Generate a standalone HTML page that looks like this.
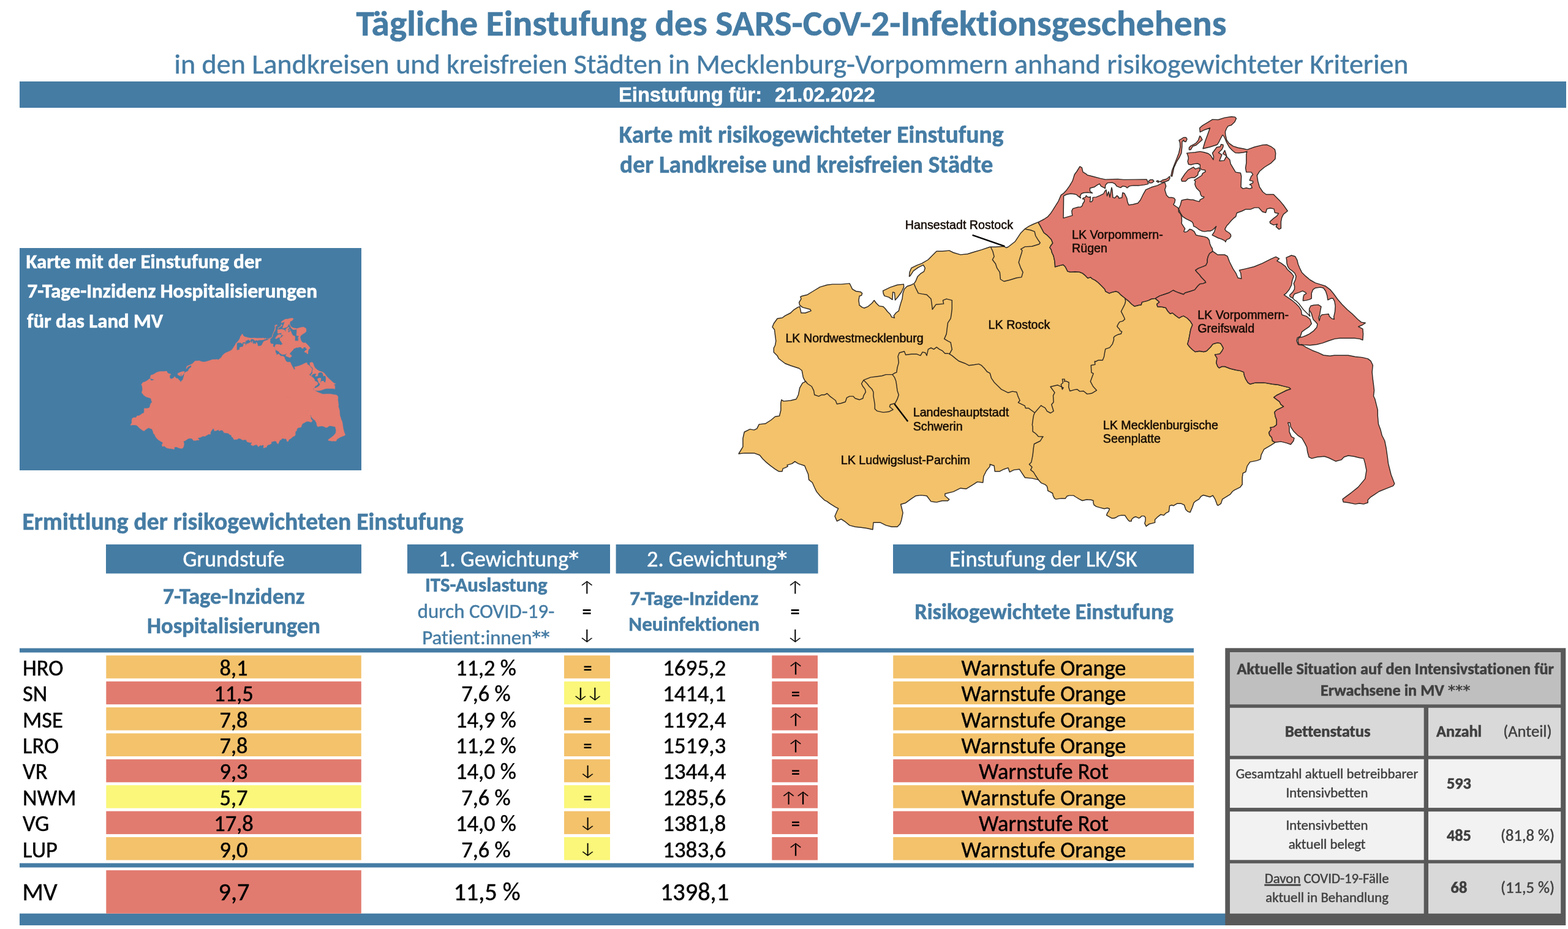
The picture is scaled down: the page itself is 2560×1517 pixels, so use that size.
<!DOCTYPE html>
<html lang="de"><head><meta charset="utf-8"><title>Tägliche Einstufung des SARS-CoV-2-Infektionsgeschehens</title>
<style>html,body{margin:0;padding:0;background:#fff;}body{width:2560px;height:1517px;overflow:hidden;}svg{display:block;}text{font-variant-ligatures:none;font-kerning:normal;}</style>
</head><body>
<svg xmlns="http://www.w3.org/2000/svg" width="2560" height="1517" viewBox="0 0 2560 1517">
<rect width="2560" height="1517" fill="#fff"/>
<text x="1292" y="58.3" font-family="Carlito, 'Liberation Sans', sans-serif" font-size="59.5" font-weight="bold" fill="#457ca4" text-anchor="middle" stroke="#457ca4" stroke-width="0.6">Tägliche Einstufung des SARS-CoV-2-Infektionsgeschehens</text>
<text x="1292" y="119.8" font-family="Carlito, 'Liberation Sans', sans-serif" font-size="46" font-weight="normal" fill="#457ca4" text-anchor="middle" stroke="#457ca4" stroke-width="0.45">in den Landkreisen und kreisfreien Städten in Mecklenburg-Vorpommern anhand risikogewichteter Kriterien</text>
<rect x="32" y="133" width="2525" height="43" fill="#457ca4"/>
<text x="1010" y="165.8" font-family="'Liberation Sans', Arial, sans-serif" font-size="32.7" font-weight="bold" fill="#fff" text-anchor="start" stroke="#fff" stroke-width="0.5">Einstufung für:</text>
<text x="1265" y="165.8" font-family="'Liberation Sans', Arial, sans-serif" font-size="32.7" font-weight="bold" fill="#fff" text-anchor="start" stroke="#fff" stroke-width="0.5">21.02.2022</text>
<text x="1010.6" y="232.6" font-family="Carlito, 'Liberation Sans', sans-serif" font-size="39.6" font-weight="bold" fill="#457ca4" text-anchor="start" stroke="#457ca4" stroke-width="0.6">Karte mit risikogewichteter Einstufung</text>
<text x="1012" y="282" font-family="Carlito, 'Liberation Sans', sans-serif" font-size="39.4" font-weight="bold" fill="#457ca4" text-anchor="start" stroke="#457ca4" stroke-width="0.6">der Landkreise und kreisfreien Städte</text>
<rect x="32" y="405" width="558" height="363" fill="#457ca4"/>
<text x="42.5" y="438" font-family="Carlito, 'Liberation Sans', sans-serif" font-size="32.8" font-weight="bold" fill="#fff" text-anchor="start" stroke="#fff" stroke-width="0.6">Karte mit der Einstufung der</text>
<text x="44.5" y="486.4" font-family="Carlito, 'Liberation Sans', sans-serif" font-size="33.05" font-weight="bold" fill="#fff" text-anchor="start" stroke="#fff" stroke-width="0.6">7-Tage-Inzidenz Hospitalisierungen</text>
<text x="44" y="534.7" font-family="Carlito, 'Liberation Sans', sans-serif" font-size="32.8" font-weight="bold" fill="#fff" text-anchor="start" stroke="#fff" stroke-width="0.6">für das Land MV</text>
<g transform="translate(212.80,519.50) scale(0.32770,0.31769) translate(-1206.04,-190.51)"><path d="M1314.9,623.3 L1311.4,616.4 L1309.2,605.0 L1304.6,601.5 L1290.8,597.0 L1281.7,593.5 L1271.3,585.5 L1269.1,580.9 L1263.3,575.2 L1263.3,568.3 L1265.6,563.7 L1266.8,556.9 L1265.6,547.7 L1264.5,538.5 L1261.0,533.9 L1263.3,528.2 L1269.1,520.2 L1277.1,519.0 L1281.7,515.6 L1290.8,511.0 L1295.4,506.4 L1302.3,501.9 L1305.7,500.7 L1308.0,511.0 L1314.9,511.0 L1324.1,507.6 L1322.9,505.3 L1310.3,501.9 L1305.7,498.4 L1304.6,493.8 L1308.0,488.1 L1306.9,484.7 L1309.2,483.5 L1318.3,481.2 L1327.5,475.5 L1338.9,468.6 L1350.4,465.2 L1359.6,464.1 L1373.3,464.1 L1387.1,462.9 L1389.4,467.5 L1391.6,472.1 L1397.4,475.5 L1405.4,476.7 L1407.7,478.9 L1406.5,482.4 L1403.1,483.5 L1402.0,490.4 L1403.1,498.4 L1407.7,501.9 L1411.1,503.0 L1416.9,500.7 L1423.7,495.0 L1427.2,490.4 L1430.6,495.0 L1435.2,499.6 L1442.1,500.7 L1445.5,504.2 L1448.9,508.7 L1453.5,513.3 L1455.8,517.9 L1460.4,519.0 L1459.2,515.6 L1462.7,511.0 L1467.3,507.6 L1468.4,503.0 L1470.7,495.0 L1473.0,488.1 L1474.1,478.9 L1476.4,472.1 L1481.0,467.5 L1487.9,465.2 L1492.5,462.9 L1494.8,459.5 L1498.2,451.4 L1502.8,446.9 L1508.5,443.4 L1510.3,437.7 L1507.4,432.7 L1499.3,436.6 L1491.3,442.3 L1486.1,450.3 L1484.5,451.4 L1485.1,444.6 L1487.9,437.7 L1497.1,433.1 L1505.1,430.1 L1515.4,424.0 L1529.1,410.2 L1538.3,410.2 L1549.8,409.1 L1556.6,412.5 L1568.1,415.9 L1579.6,414.8 L1591.0,411.3 L1602.5,407.9 L1616.2,403.3 L1625.4,403.3 L1639.1,402.2 L1642.6,404.5 L1646.0,403.3 L1657.5,394.2 L1666.6,380.4 L1673.5,373.5 L1680.0,369.3 L1687.1,366.0 L1696.0,362.3 L1695.6,364.2 L1697.9,367.9 L1704.3,380.0 L1709.1,383.6 L1716.4,390.9 L1718.8,397.0 L1715.2,401.8 L1714.0,404.3 L1716.4,407.9 L1717.6,412.8 L1720.0,417.6 L1721.9,426.1 L1722.5,433.4 L1722.5,435.8 L1731.0,433.4 L1735.8,432.2 L1739.4,435.8 L1741.9,440.7 L1743.1,443.1 L1747.9,444.3 L1755.2,443.7 L1762.5,444.3 L1767.3,446.1 L1771.0,449.1 L1775.8,454.0 L1780.7,452.8 L1783.1,455.2 L1788.0,457.6 L1792.8,461.3 L1798.9,467.3 L1803.7,472.2 L1805.0,475.8 L1811.0,478.9 L1815.9,477.1 L1821.9,475.8 L1825.6,477.1 L1830.4,481.9 L1836.5,486.8 L1842.6,491.6 L1847.4,496.5 L1852.3,500.1 L1854.7,499.5 L1859.5,498.3 L1863.2,497.7 L1864.4,493.4 L1871.7,491.6 L1875.3,490.4 L1880.2,488.0 L1886.2,487.4 L1891.1,491.6 L1892.9,493.4 L1888.7,496.5 L1889.9,500.7 L1897.2,501.3 L1903.2,502.5 L1906.9,508.6 L1910.5,512.2 L1914.1,511.0 L1920.2,515.9 L1925.1,519.5 L1928.7,517.1 L1932.3,515.9 L1938.4,519.5 L1943.3,524.4 L1946.9,530.4 L1944.5,536.5 L1943.3,541.3 L1942.0,548.6 L1940.8,554.7 L1938.8,561.9 L1942.3,566.5 L1946.9,571.0 L1951.4,574.5 L1958.3,573.3 L1965.2,574.5 L1969.8,573.3 L1976.6,566.5 L1980.1,561.9 L1983.5,560.7 L1988.1,559.6 L1992.7,560.7 L1995.0,564.2 L1997.3,568.7 L1995.0,573.3 L1991.5,577.9 L1983.5,579.1 L1987.0,584.8 L1985.8,592.8 L1988.1,598.5 L1990.4,600.8 L1995.0,598.5 L1999.6,598.5 L2008.7,602.0 L2017.9,604.3 L2024.8,605.4 L2030.5,607.7 L2031.6,613.4 L2033.9,619.2 L2037.4,624.9 L2040.8,627.2 L2050.0,624.9 L2063.7,624.9 L2077.5,627.2 L2086.6,628.3 L2095.8,630.6 L2105.0,632.9 L2107.3,635.2 L2100.4,637.5 L2091.2,642.1 L2084.3,645.5 L2079.8,648.9 L2084.3,652.4 L2088.9,655.8 L2091.2,660.4 L2095.8,663.8 L2088.9,667.3 L2084.3,669.6 L2080.9,673.0 L2082.1,679.9 L2084.3,685.6 L2084.3,693.6 L2079.8,697.1 L2074.0,698.2 L2075.2,701.6 L2071.7,706.2 L2072.9,710.8 L2076.3,714.3 L2077.5,720.0 L2082.1,722.3 L2075.2,726.9 L2063.7,733.7 L2061.4,738.3 L2059.1,742.9 L2058.0,749.8 L2052.3,752.1 L2040.8,754.4 L2036.2,761.2 L2033.9,770.4 L2029.3,772.7 L2028.2,779.6 L2028.2,791.0 L2024.8,795.6 L2015.6,800.2 L2012.2,802.5 L2008.7,807.1 L1995.8,815.1 L1993.4,822.3 L1988.6,825.3 L1987.4,824.7 L1983.8,815.1 L1980.2,809.1 L1975.4,811.5 L1964.7,808.5 L1961.1,810.3 L1957.5,815.1 L1951.5,818.7 L1949.1,821.1 L1946.7,828.3 L1943.1,836.6 L1939.5,835.4 L1935.9,831.9 L1933.5,824.7 L1928.7,822.3 L1921.6,822.3 L1915.6,825.9 L1913.2,824.7 L1909.6,825.9 L1908.4,835.4 L1903.6,837.8 L1900.0,841.4 L1895.2,840.2 L1890.4,843.8 L1885.6,848.6 L1885.6,853.4 L1880.8,854.6 L1876.0,855.8 L1871.3,859.4 L1868.9,854.6 L1870.1,849.8 L1870.1,845.0 L1867.7,842.6 L1864.1,842.6 L1861.7,845.0 L1859.3,846.2 L1854.5,843.8 L1850.9,845.0 L1847.3,848.6 L1847.3,851.0 L1843.7,851.0 L1841.3,848.6 L1836.5,841.4 L1830.5,841.4 L1825.7,842.6 L1822.2,845.0 L1818.6,846.2 L1815.0,846.2 L1806.6,841.4 L1807.8,837.8 L1810.2,834.3 L1811.4,830.7 L1807.8,829.5 L1803.0,830.7 L1795.8,828.9 L1789.8,827.1 L1786.2,824.7 L1785.0,821.1 L1785.0,817.5 L1781.4,816.3 L1774.3,815.7 L1767.1,817.5 L1762.3,815.1 L1756.3,811.5 L1752.7,809.1 L1745.5,809.1 L1741.9,810.3 L1739.5,813.9 L1732.3,813.9 L1724.0,815.1 L1721.6,813.9 L1719.2,809.1 L1718.6,805.5 L1714.4,803.1 L1710.8,801.3 L1710.2,797.1 L1709.0,793.5 L1706.0,791.1 L1700.0,788.7 L1695.3,783.4 L1685.0,781.1 L1673.5,780.0 L1668.9,773.1 L1664.3,766.2 L1655.2,767.4 L1648.3,770.8 L1646.0,763.9 L1639.1,766.2 L1632.3,769.7 L1624.2,769.7 L1623.1,760.5 L1616.2,758.2 L1616.2,761.6 L1610.5,768.5 L1605.9,777.7 L1604.8,788.0 L1595.6,786.9 L1588.7,791.4 L1577.3,798.3 L1568.1,797.2 L1556.6,802.9 L1542.9,806.3 L1542.9,809.8 L1549.8,815.5 L1547.5,817.8 L1538.3,817.8 L1529.1,820.1 L1520.0,818.9 L1513.1,809.8 L1503.9,808.6 L1494.8,809.8 L1487.9,814.4 L1478.7,821.2 L1470.7,823.5 L1474.1,837.3 L1471.9,848.7 L1469.6,855.6 L1465.0,860.2 L1455.8,860.2 L1446.6,857.9 L1437.5,853.3 L1426.0,853.3 L1424.9,864.8 L1414.6,862.5 L1405.4,861.3 L1396.2,860.2 L1387.1,857.9 L1380.2,852.2 L1373.3,847.6 L1366.4,851.0 L1363.0,843.0 L1366.4,835.0 L1368.7,830.4 L1364.2,828.1 L1355.0,822.4 L1350.4,818.9 L1345.8,816.6 L1338.9,809.8 L1333.2,802.9 L1329.8,796.0 L1326.3,788.0 L1320.6,783.4 L1319.5,774.3 L1316.0,766.2 L1313.7,760.5 L1303.4,757.1 L1297.7,753.6 L1293.1,757.1 L1285.1,759.4 L1286.2,761.6 L1281.7,763.9 L1278.2,765.1 L1277.1,769.7 L1271.3,769.7 L1265.6,766.2 L1256.5,759.4 L1249.6,753.6 L1245.0,749.0 L1240.4,743.3 L1231.2,739.9 L1215.2,739.9 L1206.0,741.0 L1212.9,729.6 L1212.9,715.8 L1215.2,705.5 L1224.4,700.9 L1231.2,702.1 L1235.8,699.8 L1239.3,692.9 L1249.6,691.8 L1258.7,686.0 L1265.6,680.3 L1272.5,679.2 L1274.8,670.0 L1274.8,658.5 L1275.9,652.8 L1279.4,655.1 L1290.8,654.0 L1300.0,651.7 L1303.4,644.8 L1305.7,633.3 L1310.3,625.3 Z M1441.6,474.8 L1453.5,469.1 L1465.0,465.2 L1475.3,464.1 L1475.7,468.6 L1471.9,476.7 L1466.1,484.7 L1461.5,489.9 L1460.4,477.8 L1457.6,477.1 L1457.0,489.3 L1451.2,485.4 L1443.9,483.1 L1442.1,478.9 Z M1696.0,362.3 L1704.5,358.0 L1710.7,353.8 L1714.9,349.1 L1718.7,343.4 L1723.4,335.8 L1728.1,328.3 L1732.4,318.4 L1736.6,315.6 L1741.3,310.4 L1746.0,303.8 L1748.4,300.0 L1751.2,295.1 L1754.3,285.0 L1758.0,280.0 L1763.0,271.9 L1766.4,273.9 L1768.0,280.9 L1773.0,283.9 L1775.5,286.0 L1785.6,288.5 L1795.7,291.1 L1804.8,293.1 L1815.9,292.6 L1825.0,292.4 L1835.0,293.4 L1872.0,292.9 L1873.0,294.9 L1875.0,299.9 L1873.0,300.9 L1868.0,301.9 L1860.0,302.9 L1850.0,302.9 L1844.0,303.9 L1840.0,306.8 L1838.0,304.8 L1833.0,303.9 L1830.0,306.2 L1828.5,306.2 L1823.5,304.2 L1820.4,300.2 L1815.9,298.1 L1808.3,298.6 L1804.8,302.2 L1804.3,307.7 L1802.8,306.7 L1797.7,304.2 L1795.2,300.2 L1790.6,302.7 L1787.1,305.2 L1779.5,307.2 L1779.5,312.3 L1783.6,315.3 L1775.5,314.3 L1769.4,314.8 L1765.4,316.3 L1763.4,320.4 L1764.4,323.4 L1760.3,320.4 L1757.8,317.9 L1753.1,316.7 L1747.7,316.3 L1741.3,317.5 L1736.6,319.8 L1736.1,356.1 L1750.8,351.9 L1750.2,348.2 L1749.8,344.3 L1751.7,340.6 L1760.0,338.2 L1764.4,338.1 L1766.9,336.0 L1767.9,332.5 L1770.4,329.0 L1770.4,325.4 L1767.4,324.9 L1768.4,323.4 L1771.9,322.4 L1773.5,319.4 L1775.5,321.4 L1778.5,322.4 L1780.0,320.9 L1780.5,323.4 L1779.5,329.5 L1782.0,329.5 L1784.1,327.0 L1784.1,322.4 L1789.6,321.9 L1795.7,319.4 L1801.8,316.3 L1803.8,312.3 L1806.0,310.0 L1807.5,320.0 L1810.0,313.0 L1812.0,322.0 L1814.9,306.2 L1815.9,310.3 L1816.9,322.4 L1819.9,323.4 L1823.5,319.4 L1826.0,321.4 L1826.8,323.8 L1831.8,322.8 L1832.8,314.8 L1835.8,315.8 L1839.8,323.8 L1840.8,329.8 L1842.8,334.8 L1849.8,333.8 L1857.8,331.8 L1861.8,326.8 L1866.7,316.8 L1870.7,309.8 L1879.7,305.8 L1889.7,302.9 L1895.7,299.9 L1901.7,297.9 L1903.7,303.9 L1901.7,309.8 L1904.5,318.7 L1908.3,322.5 L1913.0,322.5 L1916.8,323.4 L1918.7,326.2 L1917.7,330.9 L1915.8,333.8 L1917.7,335.7 L1920.6,337.5 L1923.4,339.4 L1924.3,342.3 L1924.3,346.0 L1927.2,348.9 L1929.1,353.6 L1929.5,360.2 L1929.1,364.9 L1930.9,367.7 L1932.8,370.6 L1934.7,373.4 L1932.8,378.1 L1934.7,379.1 L1938.5,378.1 L1942.3,374.3 L1946.0,375.3 L1949.8,378.1 L1951.7,381.9 L1952.6,383.8 L1956.4,384.7 L1962.1,385.7 L1966.8,386.6 L1971.5,388.5 L1974.3,392.3 L1975.3,397.9 L1977.2,402.6 L1979.1,405.5 L1980.0,410.3 L1974.8,414.0 L1972.4,418.8 L1971.2,423.7 L1971.2,428.5 L1968.7,433.4 L1962.7,435.8 L1956.6,438.2 L1951.7,441.3 L1954.2,444.3 L1957.8,447.9 L1961.5,452.8 L1967.5,458.9 L1968.7,461.3 L1963.9,463.1 L1959.0,463.7 L1955.4,467.3 L1950.5,473.4 L1943.3,475.8 L1934.8,478.3 L1932.3,480.7 L1925.1,478.3 L1919.0,475.8 L1915.4,474.0 L1908.1,478.3 L1900.8,480.7 L1893.5,483.1 L1886.2,487.4 L1880.2,488.0 L1875.3,490.4 L1871.7,491.6 L1864.4,493.4 L1863.2,497.7 L1859.5,498.3 L1854.7,499.5 L1852.3,500.1 L1847.4,496.5 L1842.6,491.6 L1836.5,486.8 L1830.4,481.9 L1825.6,477.1 L1821.9,475.8 L1815.9,477.1 L1811.0,478.9 L1805.0,475.8 L1803.7,472.2 L1798.9,467.3 L1792.8,461.3 L1788.0,457.6 L1783.1,455.2 L1780.7,452.8 L1775.8,454.0 L1771.0,449.1 L1767.3,446.1 L1762.5,444.3 L1755.2,443.7 L1747.9,444.3 L1743.1,443.1 L1741.9,440.7 L1739.4,435.8 L1735.8,432.2 L1731.0,433.4 L1722.5,435.8 L1722.5,433.4 L1721.9,426.1 L1720.0,417.6 L1717.6,412.8 L1716.4,407.9 L1714.0,404.3 L1715.2,401.8 L1718.8,397.0 L1716.4,390.9 L1709.1,383.6 L1704.3,380.0 L1697.9,367.9 L1695.6,364.2 Z M1980.0,410.3 L1983.3,412.6 L1987.9,416.0 L1999.3,416.0 L2003.9,418.3 L2007.4,427.5 L2013.1,438.9 L2017.7,445.8 L2021.1,453.8 L2026.8,455.0 L2025.7,445.8 L2023.4,441.2 L2033.7,438.9 L2047.5,435.5 L2061.2,429.8 L2075.0,422.9 L2083.0,419.4 L2088.5,422.4 L2084.9,426.1 L2091.5,429.7 L2098.8,435.2 L2101.8,440.0 L2108.5,446.1 L2112.2,450.9 L2109.7,458.2 L2108.5,465.5 L2104.9,472.8 L2100.0,478.8 L2096.4,481.3 L2101.2,484.9 L2108.5,489.8 L2115.8,495.8 L2120.6,500.7 L2124.3,506.7 L2125.5,514.0 L2132.8,516.4 L2138.8,521.3 L2141.3,528.6 L2137.6,533.4 L2130.3,538.3 L2125.5,541.9 L2123.1,549.2 L2118.2,551.6 L2117.0,556.5 L2119.4,562.5 L2126.7,563.7 L2132.8,567.4 L2142.5,572.2 L2152.2,575.9 L2160.7,580.0 L2171.4,581.3 L2178.3,580.2 L2189.8,580.2 L2201.2,580.2 L2212.7,582.5 L2224.1,583.6 L2233.3,585.9 L2237.9,589.4 L2241.3,596.2 L2240.2,607.7 L2241.3,619.2 L2242.5,628.3 L2243.6,637.5 L2242.5,646.7 L2244.7,651.2 L2247.0,660.4 L2249.3,669.6 L2249.3,678.7 L2250.5,692.5 L2253.9,701.6 L2256.2,710.8 L2260.8,720.0 L2263.1,731.4 L2265.4,747.5 L2266.5,756.6 L2268.8,765.8 L2271.1,775.0 L2274.5,784.1 L2276.8,789.9 L2274.5,793.3 L2263.1,797.9 L2251.6,802.5 L2244.7,807.1 L2237.9,811.6 L2233.3,816.2 L2233.3,820.8 L2226.4,823.1 L2219.5,822.0 L2212.7,823.1 L2201.2,820.8 L2193.2,819.7 L2192.0,815.1 L2196.6,811.6 L2205.8,804.8 L2217.3,795.6 L2228.7,781.9 L2231.0,768.1 L2228.7,756.6 L2226.4,748.6 L2219.5,747.5 L2210.4,745.2 L2201.2,744.0 L2194.3,746.3 L2189.8,750.9 L2180.6,753.2 L2176.0,750.9 L2169.1,747.5 L2162.3,745.2 L2150.8,746.3 L2141.6,748.6 L2137.0,746.3 L2134.8,738.3 L2133.6,730.3 L2130.2,723.4 L2125.6,715.4 L2118.7,710.8 L2111.8,703.9 L2107.3,697.1 L2106.1,690.2 L2102.7,690.2 L2105.0,697.1 L2105.0,705.1 L2108.4,713.1 L2113.0,715.4 L2111.8,720.0 L2107.3,725.7 L2100.4,723.4 L2091.2,721.1 L2082.1,722.3 L2077.5,720.0 L2076.3,714.3 L2072.9,710.8 L2071.7,706.2 L2075.2,701.6 L2074.0,698.2 L2079.8,697.1 L2084.3,693.6 L2084.3,685.6 L2082.1,679.9 L2080.9,673.0 L2084.3,669.6 L2088.9,667.3 L2095.8,663.8 L2091.2,660.4 L2088.9,655.8 L2084.3,652.4 L2079.8,648.9 L2084.3,645.5 L2091.2,642.1 L2100.4,637.5 L2107.3,635.2 L2105.0,632.9 L2095.8,630.6 L2086.6,628.3 L2077.5,627.2 L2063.7,624.9 L2050.0,624.9 L2040.8,627.2 L2037.4,624.9 L2033.9,619.2 L2031.6,613.4 L2030.5,607.7 L2024.8,605.4 L2017.9,604.3 L2008.7,602.0 L1999.6,598.5 L1995.0,598.5 L1990.4,600.8 L1988.1,598.5 L1985.8,592.8 L1987.0,584.8 L1983.5,579.1 L1991.5,577.9 L1995.0,573.3 L1997.3,568.7 L1995.0,564.2 L1992.7,560.7 L1988.1,559.6 L1983.5,560.7 L1980.1,561.9 L1976.6,566.5 L1969.8,573.3 L1965.2,574.5 L1958.3,573.3 L1951.4,574.5 L1946.9,571.0 L1942.3,566.5 L1938.8,561.9 L1940.8,554.7 L1942.0,548.6 L1943.3,541.3 L1944.5,536.5 L1946.9,530.4 L1943.3,524.4 L1938.4,519.5 L1932.3,515.9 L1928.7,517.1 L1925.1,519.5 L1920.2,515.9 L1914.1,511.0 L1910.5,512.2 L1906.9,508.6 L1903.2,502.5 L1897.2,501.3 L1889.9,500.7 L1888.7,496.5 L1892.9,493.4 L1891.1,491.6 L1886.2,487.4 L1893.5,483.1 L1900.8,480.7 L1908.1,478.3 L1915.4,474.0 L1919.0,475.8 L1925.1,478.3 L1932.3,480.7 L1934.8,478.3 L1943.3,475.8 L1950.5,473.4 L1955.4,467.3 L1959.0,463.7 L1963.9,463.1 L1968.7,461.3 L1967.5,458.9 L1961.5,452.8 L1957.8,447.9 L1954.2,444.3 L1951.7,441.3 L1956.6,438.2 L1962.7,435.8 L1968.7,433.4 L1971.2,428.5 L1971.2,423.7 L1972.4,418.8 L1974.8,414.0 Z M1958.6,209.0 L1963.4,204.9 L1971.4,200.2 L1979.5,195.1 L1989.0,195.5 L1999.8,192.1 L2010.5,190.5 L2016.2,191.1 L2018.4,193.5 L2015.9,198.9 L2010.5,204.3 L2005.1,205.9 L2002.5,209.7 L2000.4,215.0 L2000.8,220.4 L2002.7,228.5 L2006.5,233.9 L2013.2,238.6 L2021.3,241.3 L2029.4,242.7 L2036.2,244.4 L2048.3,240.0 L2061.8,236.6 L2068.5,236.3 L2075.2,239.3 L2081.3,244.0 L2082.7,250.1 L2082.0,259.5 L2075.2,266.3 L2064.5,273.0 L2056.4,279.8 L2052.3,286.5 L2053.7,295.9 L2056.4,305.4 L2061.8,313.5 L2067.2,317.5 L2079.3,317.5 L2084.7,322.9 L2088.7,326.9 L2095.5,335.0 L2102.2,344.5 L2095.5,349.9 L2092.8,355.2 L2091.4,362.0 L2091.4,372.8 L2088.1,374.4 L2083.3,370.1 L2085.4,366.0 L2079.3,367.4 L2073.9,364.7 L2073.2,362.0 L2079.3,356.6 L2084.7,352.6 L2087.4,348.5 L2081.3,347.2 L2080.0,341.1 L2073.9,339.7 L2068.5,341.1 L2066.5,347.2 L2061.1,345.8 L2055.0,339.1 L2048.3,339.1 L2041.5,341.8 L2033.5,341.8 L2028.1,344.5 L2019.3,347.8 L2017.7,353.6 L2014.0,356.4 L2010.2,360.2 L2006.4,364.9 L2003.6,367.7 L2001.7,370.6 L1999.8,374.3 L2001.7,377.2 L2006.4,380.0 L2009.2,382.8 L2009.7,385.7 L2007.4,389.4 L2002.6,391.3 L2000.8,395.1 L1999.8,393.2 L1994.2,390.4 L1988.5,388.5 L1982.8,385.7 L1979.1,383.8 L1982.8,378.1 L1983.8,374.3 L1985.7,369.6 L1982.8,372.5 L1980.0,375.3 L1976.2,377.2 L1971.5,377.2 L1966.8,378.1 L1962.1,377.2 L1958.3,375.3 L1954.5,372.5 L1951.7,370.6 L1948.9,369.6 L1947.9,364.9 L1946.0,362.1 L1942.3,360.2 L1936.6,357.4 L1930.9,353.6 L1927.2,347.9 L1924.3,341.3 L1927.2,334.7 L1929.1,327.2 L1932.8,326.2 L1938.5,325.3 L1944.2,326.2 L1947.9,326.2 L1953.6,328.1 L1958.3,329.1 L1959.2,326.2 L1964.9,323.4 L1965.8,321.5 L1962.1,320.6 L1960.2,317.7 L1959.2,313.0 L1955.5,309.2 L1953.6,307.4 L1951.7,303.6 L1950.8,300.8 L1951.7,296.0 L1949.8,294.2 L1954.5,291.3 L1962.0,286.5 L1963.4,283.1 L1968.1,280.4 L1967.4,277.7 L1962.0,277.1 L1959.3,274.4 L1959.3,269.0 L1955.3,267.0 L1949.9,267.6 L1944.5,269.0 L1940.4,268.3 L1939.1,263.6 L1940.4,258.2 L1939.1,252.8 L1937.7,250.1 L1943.1,249.4 L1951.2,248.8 L1959.3,247.4 L1966.1,248.8 L1972.8,250.8 L1976.8,254.1 L1980.9,260.9 L1981.5,256.0 L1979.5,250.0 L1986.5,240.5 L1992.2,239.5 L1993.6,235.8 L1997.0,236.5 L1997.0,239.8 L1995.0,243.9 L1989.5,249.3 L1994.9,252.6 L1990.9,262.7 L1998.6,262.1 L2002.3,255.3 L2007.8,260.9 L2009.2,267.6 L2013.2,274.4 L2017.3,281.1 L2025.4,282.5 L2026.7,287.8 L2026.0,305.4 L2029.4,308.1 L2034.8,306.7 L2040.2,308.1 L2044.2,306.7 L2042.9,302.7 L2040.2,301.3 L2045.6,298.6 L2045.6,295.9 L2040.2,294.6 L2042.9,287.8 L2045.6,285.1 L2042.9,281.1 L2034.8,281.1 L2033.5,274.4 L2034.8,266.3 L2034.8,259.5 L2034.8,251.4 L2036.0,247.5 L2029.9,249.0 L2022.9,249.8 L2016.8,249.5 L2012.4,246.0 L2007.1,240.5 L2002.7,232.6 L2000.1,226.5 L1997.5,221.5 L1996.0,220.5 L1993.0,225.8 L1990.1,231.9 L1987.2,236.3 L1975.5,240.0 L1964.0,242.7 L1967.4,231.2 L1971.4,220.4 L1975.5,209.0 L1967.4,211.7 L1959.3,215.7 Z M2100.0,420.6 L2108.5,417.0 L2114.6,418.8 L2117.6,424.3 L2119.4,431.5 L2121.9,437.6 L2125.5,444.9 L2131.6,450.9 L2138.8,457.0 L2147.3,461.9 L2157.0,464.9 L2164.3,467.3 L2171.6,472.8 L2177.6,480.0 L2183.7,488.5 L2191.0,497.0 L2199.5,505.5 L2208.0,512.8 L2216.5,521.3 L2222.5,526.1 L2229.2,527.3 L2223.7,531.0 L2217.7,533.4 L2224.9,537.1 L2225.6,545.5 L2224.9,555.2 L2220.1,553.4 L2211.6,552.2 L2199.5,552.2 L2187.3,552.2 L2178.9,553.4 L2169.2,556.5 L2159.5,560.1 L2149.8,562.5 L2138.8,563.7 L2129.1,563.1 L2124.3,562.5 L2121.2,563.1 L2119.4,558.9 L2119.2,554.0 L2121.2,551.0 L2126.7,550.2 L2132.2,548.0 L2137.6,545.3 L2144.3,540.7 L2149.8,534.6 L2151.0,529.2 L2147.9,525.5 L2144.3,521.9 L2142.5,517.0 L2141.3,512.2 L2138.8,507.9 L2135.2,504.9 L2131.6,501.9 L2127.9,497.6 L2124.3,493.4 L2119.4,490.4 L2114.6,488.3 L2109.7,486.4 L2106.1,484.3 L2105.5,481.9 L2107.9,479.4 L2110.9,476.4 L2113.4,472.2 L2113.6,467.3 L2112.2,463.1 L2115.2,456.0 L2116.0,450.9 L2113.6,445.8 L2109.1,441.8 L2105.1,439.1 L2102.7,435.4 L2101.0,430.3 L2100.6,424.3 Z M1911.7,287.5 L1913.7,278.0 L1917.6,268.0 L1921.6,258.0 L1924.6,250.0 L1926.8,240.0 L1926.5,233.0 L1925.0,229.2 L1932.4,224.5 L1936.4,224.5 L1938.0,227.2 L1936.1,231.5 L1933.4,231.0 L1932.4,228.8 L1930.0,231.5 L1929.8,240.0 L1928.8,250.0 L1925.5,257.0 L1921.6,263.0 L1916.6,274.0 L1913.7,287.9 Z M1941.4,241.3 L1944.0,238.3 L1950.2,235.2 L1952.8,233.5 L1956.3,229.1 L1958.9,222.1 L1960.7,223.8 L1962.9,228.2 L1958.9,231.7 L1952.8,237.0 L1947.5,238.7 L1944.0,244.4 L1941.4,244.4 Z M1928.6,292.9 L1934.6,283.9 L1939.6,277.9 L1946.6,273.9 L1948.6,272.9 L1951.6,275.9 L1957.5,273.9 L1959.5,277.9 L1956.5,280.9 L1955.5,285.9 L1950.6,289.9 L1945.6,289.9 L1939.6,291.9 L1935.6,295.9 L1929.6,295.9 Z M1996.6,251.0 L1999.6,245.6 L2002.7,254.6 Z M1875.0,296.0 L1878.0,293.5 L1882.0,293.5 L1884.0,296.0 L1881.0,298.5 L1877.0,298.8 Z M1888.0,296.0 L1890.0,295.0 L1893.0,296.5 L1891.0,298.0 Z M1894.0,296.5 L1898.0,294.0 L1904.0,292.5 L1907.5,290.0 L1909.5,288.0 L1910.0,291.0 L1908.0,294.5 L1903.0,296.5 L1897.0,297.9 Z" fill="#e47c6f" fill-rule="nonzero" stroke="#e47c6f" stroke-width="1.2" stroke-linejoin="round"/><path d="M2113.4,480.0 L2120.6,477.6 L2126.7,475.2 L2131.6,477.6 L2132.8,479.4 L2129.1,481.3 L2127.9,484.9 L2127.3,491.0 L2132.8,490.4 L2137.6,489.1 L2141.3,487.3 L2141.3,478.8 L2143.7,472.8 L2147.3,470.3 L2155.8,469.1 L2160.7,470.3 L2164.3,475.2 L2166.7,482.5 L2167.9,489.8 L2172.8,487.3 L2176.4,487.3 L2178.9,492.2 L2180.1,499.5 L2179.5,509.2 L2177.6,517.6 L2178.3,521.3 L2174.0,520.1 L2170.4,516.4 L2169.2,512.8 L2163.1,513.4 L2158.2,514.0 L2155.8,516.4 L2154.6,521.3 L2154.0,523.7 L2152.8,518.9 L2154.6,514.0 L2155.8,506.7 L2157.0,500.7 L2152.2,497.6 L2144.9,498.2 L2140.0,499.5 L2137.6,504.3 L2137.6,511.6 L2138.8,516.4 L2135.2,512.8 L2131.6,509.2 L2127.9,505.5 L2124.3,500.7 L2120.6,495.8 L2117.0,492.2 L2113.4,489.8 L2110.9,487.3 L2111.5,483.7 Z" fill="#457ca4"/></g>
<g><path d="M1314.9,623.3 L1311.4,616.4 L1309.2,605.0 L1304.6,601.5 L1290.8,597.0 L1281.7,593.5 L1271.3,585.5 L1269.1,580.9 L1263.3,575.2 L1263.3,568.3 L1265.6,563.7 L1266.8,556.9 L1265.6,547.7 L1264.5,538.5 L1261.0,533.9 L1263.3,528.2 L1269.1,520.2 L1277.1,519.0 L1281.7,515.6 L1290.8,511.0 L1295.4,506.4 L1302.3,501.9 L1305.7,500.7 L1308.0,511.0 L1314.9,511.0 L1324.1,507.6 L1322.9,505.3 L1310.3,501.9 L1305.7,498.4 L1304.6,493.8 L1308.0,488.1 L1306.9,484.7 L1309.2,483.5 L1318.3,481.2 L1327.5,475.5 L1338.9,468.6 L1350.4,465.2 L1359.6,464.1 L1373.3,464.1 L1387.1,462.9 L1389.4,467.5 L1391.6,472.1 L1397.4,475.5 L1405.4,476.7 L1407.7,478.9 L1406.5,482.4 L1403.1,483.5 L1402.0,490.4 L1403.1,498.4 L1407.7,501.9 L1411.1,503.0 L1416.9,500.7 L1423.7,495.0 L1427.2,490.4 L1430.6,495.0 L1435.2,499.6 L1442.1,500.7 L1445.5,504.2 L1448.9,508.7 L1453.5,513.3 L1455.8,517.9 L1460.4,519.0 L1459.2,515.6 L1462.7,511.0 L1467.3,507.6 L1468.4,503.0 L1470.7,495.0 L1473.0,488.1 L1474.1,478.9 L1476.4,472.1 L1481.0,467.5 L1487.9,465.2 L1492.5,462.9 L1494.8,459.5 L1498.2,451.4 L1502.8,446.9 L1508.5,443.4 L1510.3,437.7 L1507.4,432.7 L1499.3,436.6 L1491.3,442.3 L1486.1,450.3 L1484.5,451.4 L1485.1,444.6 L1487.9,437.7 L1497.1,433.1 L1505.1,430.1 L1515.4,424.0 L1529.1,410.2 L1538.3,410.2 L1549.8,409.1 L1556.6,412.5 L1568.1,415.9 L1579.6,414.8 L1591.0,411.3 L1602.5,407.9 L1616.2,403.3 L1625.4,403.3 L1639.1,402.2 L1642.6,404.5 L1646.0,403.3 L1657.5,394.2 L1666.6,380.4 L1673.5,373.5 L1680.0,369.3 L1687.1,366.0 L1696.0,362.3 L1695.6,364.2 L1697.9,367.9 L1704.3,380.0 L1709.1,383.6 L1716.4,390.9 L1718.8,397.0 L1715.2,401.8 L1714.0,404.3 L1716.4,407.9 L1717.6,412.8 L1720.0,417.6 L1721.9,426.1 L1722.5,433.4 L1722.5,435.8 L1731.0,433.4 L1735.8,432.2 L1739.4,435.8 L1741.9,440.7 L1743.1,443.1 L1747.9,444.3 L1755.2,443.7 L1762.5,444.3 L1767.3,446.1 L1771.0,449.1 L1775.8,454.0 L1780.7,452.8 L1783.1,455.2 L1788.0,457.6 L1792.8,461.3 L1798.9,467.3 L1803.7,472.2 L1805.0,475.8 L1811.0,478.9 L1815.9,477.1 L1821.9,475.8 L1825.6,477.1 L1830.4,481.9 L1836.5,486.8 L1842.6,491.6 L1847.4,496.5 L1852.3,500.1 L1854.7,499.5 L1859.5,498.3 L1863.2,497.7 L1864.4,493.4 L1871.7,491.6 L1875.3,490.4 L1880.2,488.0 L1886.2,487.4 L1891.1,491.6 L1892.9,493.4 L1888.7,496.5 L1889.9,500.7 L1897.2,501.3 L1903.2,502.5 L1906.9,508.6 L1910.5,512.2 L1914.1,511.0 L1920.2,515.9 L1925.1,519.5 L1928.7,517.1 L1932.3,515.9 L1938.4,519.5 L1943.3,524.4 L1946.9,530.4 L1944.5,536.5 L1943.3,541.3 L1942.0,548.6 L1940.8,554.7 L1938.8,561.9 L1942.3,566.5 L1946.9,571.0 L1951.4,574.5 L1958.3,573.3 L1965.2,574.5 L1969.8,573.3 L1976.6,566.5 L1980.1,561.9 L1983.5,560.7 L1988.1,559.6 L1992.7,560.7 L1995.0,564.2 L1997.3,568.7 L1995.0,573.3 L1991.5,577.9 L1983.5,579.1 L1987.0,584.8 L1985.8,592.8 L1988.1,598.5 L1990.4,600.8 L1995.0,598.5 L1999.6,598.5 L2008.7,602.0 L2017.9,604.3 L2024.8,605.4 L2030.5,607.7 L2031.6,613.4 L2033.9,619.2 L2037.4,624.9 L2040.8,627.2 L2050.0,624.9 L2063.7,624.9 L2077.5,627.2 L2086.6,628.3 L2095.8,630.6 L2105.0,632.9 L2107.3,635.2 L2100.4,637.5 L2091.2,642.1 L2084.3,645.5 L2079.8,648.9 L2084.3,652.4 L2088.9,655.8 L2091.2,660.4 L2095.8,663.8 L2088.9,667.3 L2084.3,669.6 L2080.9,673.0 L2082.1,679.9 L2084.3,685.6 L2084.3,693.6 L2079.8,697.1 L2074.0,698.2 L2075.2,701.6 L2071.7,706.2 L2072.9,710.8 L2076.3,714.3 L2077.5,720.0 L2082.1,722.3 L2075.2,726.9 L2063.7,733.7 L2061.4,738.3 L2059.1,742.9 L2058.0,749.8 L2052.3,752.1 L2040.8,754.4 L2036.2,761.2 L2033.9,770.4 L2029.3,772.7 L2028.2,779.6 L2028.2,791.0 L2024.8,795.6 L2015.6,800.2 L2012.2,802.5 L2008.7,807.1 L1995.8,815.1 L1993.4,822.3 L1988.6,825.3 L1987.4,824.7 L1983.8,815.1 L1980.2,809.1 L1975.4,811.5 L1964.7,808.5 L1961.1,810.3 L1957.5,815.1 L1951.5,818.7 L1949.1,821.1 L1946.7,828.3 L1943.1,836.6 L1939.5,835.4 L1935.9,831.9 L1933.5,824.7 L1928.7,822.3 L1921.6,822.3 L1915.6,825.9 L1913.2,824.7 L1909.6,825.9 L1908.4,835.4 L1903.6,837.8 L1900.0,841.4 L1895.2,840.2 L1890.4,843.8 L1885.6,848.6 L1885.6,853.4 L1880.8,854.6 L1876.0,855.8 L1871.3,859.4 L1868.9,854.6 L1870.1,849.8 L1870.1,845.0 L1867.7,842.6 L1864.1,842.6 L1861.7,845.0 L1859.3,846.2 L1854.5,843.8 L1850.9,845.0 L1847.3,848.6 L1847.3,851.0 L1843.7,851.0 L1841.3,848.6 L1836.5,841.4 L1830.5,841.4 L1825.7,842.6 L1822.2,845.0 L1818.6,846.2 L1815.0,846.2 L1806.6,841.4 L1807.8,837.8 L1810.2,834.3 L1811.4,830.7 L1807.8,829.5 L1803.0,830.7 L1795.8,828.9 L1789.8,827.1 L1786.2,824.7 L1785.0,821.1 L1785.0,817.5 L1781.4,816.3 L1774.3,815.7 L1767.1,817.5 L1762.3,815.1 L1756.3,811.5 L1752.7,809.1 L1745.5,809.1 L1741.9,810.3 L1739.5,813.9 L1732.3,813.9 L1724.0,815.1 L1721.6,813.9 L1719.2,809.1 L1718.6,805.5 L1714.4,803.1 L1710.8,801.3 L1710.2,797.1 L1709.0,793.5 L1706.0,791.1 L1700.0,788.7 L1695.3,783.4 L1685.0,781.1 L1673.5,780.0 L1668.9,773.1 L1664.3,766.2 L1655.2,767.4 L1648.3,770.8 L1646.0,763.9 L1639.1,766.2 L1632.3,769.7 L1624.2,769.7 L1623.1,760.5 L1616.2,758.2 L1616.2,761.6 L1610.5,768.5 L1605.9,777.7 L1604.8,788.0 L1595.6,786.9 L1588.7,791.4 L1577.3,798.3 L1568.1,797.2 L1556.6,802.9 L1542.9,806.3 L1542.9,809.8 L1549.8,815.5 L1547.5,817.8 L1538.3,817.8 L1529.1,820.1 L1520.0,818.9 L1513.1,809.8 L1503.9,808.6 L1494.8,809.8 L1487.9,814.4 L1478.7,821.2 L1470.7,823.5 L1474.1,837.3 L1471.9,848.7 L1469.6,855.6 L1465.0,860.2 L1455.8,860.2 L1446.6,857.9 L1437.5,853.3 L1426.0,853.3 L1424.9,864.8 L1414.6,862.5 L1405.4,861.3 L1396.2,860.2 L1387.1,857.9 L1380.2,852.2 L1373.3,847.6 L1366.4,851.0 L1363.0,843.0 L1366.4,835.0 L1368.7,830.4 L1364.2,828.1 L1355.0,822.4 L1350.4,818.9 L1345.8,816.6 L1338.9,809.8 L1333.2,802.9 L1329.8,796.0 L1326.3,788.0 L1320.6,783.4 L1319.5,774.3 L1316.0,766.2 L1313.7,760.5 L1303.4,757.1 L1297.7,753.6 L1293.1,757.1 L1285.1,759.4 L1286.2,761.6 L1281.7,763.9 L1278.2,765.1 L1277.1,769.7 L1271.3,769.7 L1265.6,766.2 L1256.5,759.4 L1249.6,753.6 L1245.0,749.0 L1240.4,743.3 L1231.2,739.9 L1215.2,739.9 L1206.0,741.0 L1212.9,729.6 L1212.9,715.8 L1215.2,705.5 L1224.4,700.9 L1231.2,702.1 L1235.8,699.8 L1239.3,692.9 L1249.6,691.8 L1258.7,686.0 L1265.6,680.3 L1272.5,679.2 L1274.8,670.0 L1274.8,658.5 L1275.9,652.8 L1279.4,655.1 L1290.8,654.0 L1300.0,651.7 L1303.4,644.8 L1305.7,633.3 L1310.3,625.3 Z" fill="#f3c26b" stroke="#2f2924" stroke-width="1.45" stroke-linejoin="round"/>
<path d="M1441.6,474.8 L1453.5,469.1 L1465.0,465.2 L1475.3,464.1 L1475.7,468.6 L1471.9,476.7 L1466.1,484.7 L1461.5,489.9 L1460.4,477.8 L1457.6,477.1 L1457.0,489.3 L1451.2,485.4 L1443.9,483.1 L1442.1,478.9 Z" fill="#f3c26b" stroke="#2f2924" stroke-width="1.45" stroke-linejoin="round"/>
<path d="M1696.0,362.3 L1704.5,358.0 L1710.7,353.8 L1714.9,349.1 L1718.7,343.4 L1723.4,335.8 L1728.1,328.3 L1732.4,318.4 L1736.6,315.6 L1741.3,310.4 L1746.0,303.8 L1748.4,300.0 L1751.2,295.1 L1754.3,285.0 L1758.0,280.0 L1763.0,271.9 L1766.4,273.9 L1768.0,280.9 L1773.0,283.9 L1775.5,286.0 L1785.6,288.5 L1795.7,291.1 L1804.8,293.1 L1815.9,292.6 L1825.0,292.4 L1835.0,293.4 L1872.0,292.9 L1873.0,294.9 L1875.0,299.9 L1873.0,300.9 L1868.0,301.9 L1860.0,302.9 L1850.0,302.9 L1844.0,303.9 L1840.0,306.8 L1838.0,304.8 L1833.0,303.9 L1830.0,306.2 L1828.5,306.2 L1823.5,304.2 L1820.4,300.2 L1815.9,298.1 L1808.3,298.6 L1804.8,302.2 L1804.3,307.7 L1802.8,306.7 L1797.7,304.2 L1795.2,300.2 L1790.6,302.7 L1787.1,305.2 L1779.5,307.2 L1779.5,312.3 L1783.6,315.3 L1775.5,314.3 L1769.4,314.8 L1765.4,316.3 L1763.4,320.4 L1764.4,323.4 L1760.3,320.4 L1757.8,317.9 L1753.1,316.7 L1747.7,316.3 L1741.3,317.5 L1736.6,319.8 L1736.1,356.1 L1750.8,351.9 L1750.2,348.2 L1749.8,344.3 L1751.7,340.6 L1760.0,338.2 L1764.4,338.1 L1766.9,336.0 L1767.9,332.5 L1770.4,329.0 L1770.4,325.4 L1767.4,324.9 L1768.4,323.4 L1771.9,322.4 L1773.5,319.4 L1775.5,321.4 L1778.5,322.4 L1780.0,320.9 L1780.5,323.4 L1779.5,329.5 L1782.0,329.5 L1784.1,327.0 L1784.1,322.4 L1789.6,321.9 L1795.7,319.4 L1801.8,316.3 L1803.8,312.3 L1806.0,310.0 L1807.5,320.0 L1810.0,313.0 L1812.0,322.0 L1814.9,306.2 L1815.9,310.3 L1816.9,322.4 L1819.9,323.4 L1823.5,319.4 L1826.0,321.4 L1826.8,323.8 L1831.8,322.8 L1832.8,314.8 L1835.8,315.8 L1839.8,323.8 L1840.8,329.8 L1842.8,334.8 L1849.8,333.8 L1857.8,331.8 L1861.8,326.8 L1866.7,316.8 L1870.7,309.8 L1879.7,305.8 L1889.7,302.9 L1895.7,299.9 L1901.7,297.9 L1903.7,303.9 L1901.7,309.8 L1904.5,318.7 L1908.3,322.5 L1913.0,322.5 L1916.8,323.4 L1918.7,326.2 L1917.7,330.9 L1915.8,333.8 L1917.7,335.7 L1920.6,337.5 L1923.4,339.4 L1924.3,342.3 L1924.3,346.0 L1927.2,348.9 L1929.1,353.6 L1929.5,360.2 L1929.1,364.9 L1930.9,367.7 L1932.8,370.6 L1934.7,373.4 L1932.8,378.1 L1934.7,379.1 L1938.5,378.1 L1942.3,374.3 L1946.0,375.3 L1949.8,378.1 L1951.7,381.9 L1952.6,383.8 L1956.4,384.7 L1962.1,385.7 L1966.8,386.6 L1971.5,388.5 L1974.3,392.3 L1975.3,397.9 L1977.2,402.6 L1979.1,405.5 L1980.0,410.3 L1974.8,414.0 L1972.4,418.8 L1971.2,423.7 L1971.2,428.5 L1968.7,433.4 L1962.7,435.8 L1956.6,438.2 L1951.7,441.3 L1954.2,444.3 L1957.8,447.9 L1961.5,452.8 L1967.5,458.9 L1968.7,461.3 L1963.9,463.1 L1959.0,463.7 L1955.4,467.3 L1950.5,473.4 L1943.3,475.8 L1934.8,478.3 L1932.3,480.7 L1925.1,478.3 L1919.0,475.8 L1915.4,474.0 L1908.1,478.3 L1900.8,480.7 L1893.5,483.1 L1886.2,487.4 L1880.2,488.0 L1875.3,490.4 L1871.7,491.6 L1864.4,493.4 L1863.2,497.7 L1859.5,498.3 L1854.7,499.5 L1852.3,500.1 L1847.4,496.5 L1842.6,491.6 L1836.5,486.8 L1830.4,481.9 L1825.6,477.1 L1821.9,475.8 L1815.9,477.1 L1811.0,478.9 L1805.0,475.8 L1803.7,472.2 L1798.9,467.3 L1792.8,461.3 L1788.0,457.6 L1783.1,455.2 L1780.7,452.8 L1775.8,454.0 L1771.0,449.1 L1767.3,446.1 L1762.5,444.3 L1755.2,443.7 L1747.9,444.3 L1743.1,443.1 L1741.9,440.7 L1739.4,435.8 L1735.8,432.2 L1731.0,433.4 L1722.5,435.8 L1722.5,433.4 L1721.9,426.1 L1720.0,417.6 L1717.6,412.8 L1716.4,407.9 L1714.0,404.3 L1715.2,401.8 L1718.8,397.0 L1716.4,390.9 L1709.1,383.6 L1704.3,380.0 L1697.9,367.9 L1695.6,364.2 Z" fill="#e27b6f" stroke="#2f2924" stroke-width="1.45" stroke-linejoin="round"/>
<path d="M1980.0,410.3 L1983.3,412.6 L1987.9,416.0 L1999.3,416.0 L2003.9,418.3 L2007.4,427.5 L2013.1,438.9 L2017.7,445.8 L2021.1,453.8 L2026.8,455.0 L2025.7,445.8 L2023.4,441.2 L2033.7,438.9 L2047.5,435.5 L2061.2,429.8 L2075.0,422.9 L2083.0,419.4 L2088.5,422.4 L2084.9,426.1 L2091.5,429.7 L2098.8,435.2 L2101.8,440.0 L2108.5,446.1 L2112.2,450.9 L2109.7,458.2 L2108.5,465.5 L2104.9,472.8 L2100.0,478.8 L2096.4,481.3 L2101.2,484.9 L2108.5,489.8 L2115.8,495.8 L2120.6,500.7 L2124.3,506.7 L2125.5,514.0 L2132.8,516.4 L2138.8,521.3 L2141.3,528.6 L2137.6,533.4 L2130.3,538.3 L2125.5,541.9 L2123.1,549.2 L2118.2,551.6 L2117.0,556.5 L2119.4,562.5 L2126.7,563.7 L2132.8,567.4 L2142.5,572.2 L2152.2,575.9 L2160.7,580.0 L2171.4,581.3 L2178.3,580.2 L2189.8,580.2 L2201.2,580.2 L2212.7,582.5 L2224.1,583.6 L2233.3,585.9 L2237.9,589.4 L2241.3,596.2 L2240.2,607.7 L2241.3,619.2 L2242.5,628.3 L2243.6,637.5 L2242.5,646.7 L2244.7,651.2 L2247.0,660.4 L2249.3,669.6 L2249.3,678.7 L2250.5,692.5 L2253.9,701.6 L2256.2,710.8 L2260.8,720.0 L2263.1,731.4 L2265.4,747.5 L2266.5,756.6 L2268.8,765.8 L2271.1,775.0 L2274.5,784.1 L2276.8,789.9 L2274.5,793.3 L2263.1,797.9 L2251.6,802.5 L2244.7,807.1 L2237.9,811.6 L2233.3,816.2 L2233.3,820.8 L2226.4,823.1 L2219.5,822.0 L2212.7,823.1 L2201.2,820.8 L2193.2,819.7 L2192.0,815.1 L2196.6,811.6 L2205.8,804.8 L2217.3,795.6 L2228.7,781.9 L2231.0,768.1 L2228.7,756.6 L2226.4,748.6 L2219.5,747.5 L2210.4,745.2 L2201.2,744.0 L2194.3,746.3 L2189.8,750.9 L2180.6,753.2 L2176.0,750.9 L2169.1,747.5 L2162.3,745.2 L2150.8,746.3 L2141.6,748.6 L2137.0,746.3 L2134.8,738.3 L2133.6,730.3 L2130.2,723.4 L2125.6,715.4 L2118.7,710.8 L2111.8,703.9 L2107.3,697.1 L2106.1,690.2 L2102.7,690.2 L2105.0,697.1 L2105.0,705.1 L2108.4,713.1 L2113.0,715.4 L2111.8,720.0 L2107.3,725.7 L2100.4,723.4 L2091.2,721.1 L2082.1,722.3 L2077.5,720.0 L2076.3,714.3 L2072.9,710.8 L2071.7,706.2 L2075.2,701.6 L2074.0,698.2 L2079.8,697.1 L2084.3,693.6 L2084.3,685.6 L2082.1,679.9 L2080.9,673.0 L2084.3,669.6 L2088.9,667.3 L2095.8,663.8 L2091.2,660.4 L2088.9,655.8 L2084.3,652.4 L2079.8,648.9 L2084.3,645.5 L2091.2,642.1 L2100.4,637.5 L2107.3,635.2 L2105.0,632.9 L2095.8,630.6 L2086.6,628.3 L2077.5,627.2 L2063.7,624.9 L2050.0,624.9 L2040.8,627.2 L2037.4,624.9 L2033.9,619.2 L2031.6,613.4 L2030.5,607.7 L2024.8,605.4 L2017.9,604.3 L2008.7,602.0 L1999.6,598.5 L1995.0,598.5 L1990.4,600.8 L1988.1,598.5 L1985.8,592.8 L1987.0,584.8 L1983.5,579.1 L1991.5,577.9 L1995.0,573.3 L1997.3,568.7 L1995.0,564.2 L1992.7,560.7 L1988.1,559.6 L1983.5,560.7 L1980.1,561.9 L1976.6,566.5 L1969.8,573.3 L1965.2,574.5 L1958.3,573.3 L1951.4,574.5 L1946.9,571.0 L1942.3,566.5 L1938.8,561.9 L1940.8,554.7 L1942.0,548.6 L1943.3,541.3 L1944.5,536.5 L1946.9,530.4 L1943.3,524.4 L1938.4,519.5 L1932.3,515.9 L1928.7,517.1 L1925.1,519.5 L1920.2,515.9 L1914.1,511.0 L1910.5,512.2 L1906.9,508.6 L1903.2,502.5 L1897.2,501.3 L1889.9,500.7 L1888.7,496.5 L1892.9,493.4 L1891.1,491.6 L1886.2,487.4 L1893.5,483.1 L1900.8,480.7 L1908.1,478.3 L1915.4,474.0 L1919.0,475.8 L1925.1,478.3 L1932.3,480.7 L1934.8,478.3 L1943.3,475.8 L1950.5,473.4 L1955.4,467.3 L1959.0,463.7 L1963.9,463.1 L1968.7,461.3 L1967.5,458.9 L1961.5,452.8 L1957.8,447.9 L1954.2,444.3 L1951.7,441.3 L1956.6,438.2 L1962.7,435.8 L1968.7,433.4 L1971.2,428.5 L1971.2,423.7 L1972.4,418.8 L1974.8,414.0 Z" fill="#e27b6f" stroke="#2f2924" stroke-width="1.45" stroke-linejoin="round"/>
<path d="M1958.6,209.0 L1963.4,204.9 L1971.4,200.2 L1979.5,195.1 L1989.0,195.5 L1999.8,192.1 L2010.5,190.5 L2016.2,191.1 L2018.4,193.5 L2015.9,198.9 L2010.5,204.3 L2005.1,205.9 L2002.5,209.7 L2000.4,215.0 L2000.8,220.4 L2002.7,228.5 L2006.5,233.9 L2013.2,238.6 L2021.3,241.3 L2029.4,242.7 L2036.2,244.4 L2048.3,240.0 L2061.8,236.6 L2068.5,236.3 L2075.2,239.3 L2081.3,244.0 L2082.7,250.1 L2082.0,259.5 L2075.2,266.3 L2064.5,273.0 L2056.4,279.8 L2052.3,286.5 L2053.7,295.9 L2056.4,305.4 L2061.8,313.5 L2067.2,317.5 L2079.3,317.5 L2084.7,322.9 L2088.7,326.9 L2095.5,335.0 L2102.2,344.5 L2095.5,349.9 L2092.8,355.2 L2091.4,362.0 L2091.4,372.8 L2088.1,374.4 L2083.3,370.1 L2085.4,366.0 L2079.3,367.4 L2073.9,364.7 L2073.2,362.0 L2079.3,356.6 L2084.7,352.6 L2087.4,348.5 L2081.3,347.2 L2080.0,341.1 L2073.9,339.7 L2068.5,341.1 L2066.5,347.2 L2061.1,345.8 L2055.0,339.1 L2048.3,339.1 L2041.5,341.8 L2033.5,341.8 L2028.1,344.5 L2019.3,347.8 L2017.7,353.6 L2014.0,356.4 L2010.2,360.2 L2006.4,364.9 L2003.6,367.7 L2001.7,370.6 L1999.8,374.3 L2001.7,377.2 L2006.4,380.0 L2009.2,382.8 L2009.7,385.7 L2007.4,389.4 L2002.6,391.3 L2000.8,395.1 L1999.8,393.2 L1994.2,390.4 L1988.5,388.5 L1982.8,385.7 L1979.1,383.8 L1982.8,378.1 L1983.8,374.3 L1985.7,369.6 L1982.8,372.5 L1980.0,375.3 L1976.2,377.2 L1971.5,377.2 L1966.8,378.1 L1962.1,377.2 L1958.3,375.3 L1954.5,372.5 L1951.7,370.6 L1948.9,369.6 L1947.9,364.9 L1946.0,362.1 L1942.3,360.2 L1936.6,357.4 L1930.9,353.6 L1927.2,347.9 L1924.3,341.3 L1927.2,334.7 L1929.1,327.2 L1932.8,326.2 L1938.5,325.3 L1944.2,326.2 L1947.9,326.2 L1953.6,328.1 L1958.3,329.1 L1959.2,326.2 L1964.9,323.4 L1965.8,321.5 L1962.1,320.6 L1960.2,317.7 L1959.2,313.0 L1955.5,309.2 L1953.6,307.4 L1951.7,303.6 L1950.8,300.8 L1951.7,296.0 L1949.8,294.2 L1954.5,291.3 L1962.0,286.5 L1963.4,283.1 L1968.1,280.4 L1967.4,277.7 L1962.0,277.1 L1959.3,274.4 L1959.3,269.0 L1955.3,267.0 L1949.9,267.6 L1944.5,269.0 L1940.4,268.3 L1939.1,263.6 L1940.4,258.2 L1939.1,252.8 L1937.7,250.1 L1943.1,249.4 L1951.2,248.8 L1959.3,247.4 L1966.1,248.8 L1972.8,250.8 L1976.8,254.1 L1980.9,260.9 L1981.5,256.0 L1979.5,250.0 L1986.5,240.5 L1992.2,239.5 L1993.6,235.8 L1997.0,236.5 L1997.0,239.8 L1995.0,243.9 L1989.5,249.3 L1994.9,252.6 L1990.9,262.7 L1998.6,262.1 L2002.3,255.3 L2007.8,260.9 L2009.2,267.6 L2013.2,274.4 L2017.3,281.1 L2025.4,282.5 L2026.7,287.8 L2026.0,305.4 L2029.4,308.1 L2034.8,306.7 L2040.2,308.1 L2044.2,306.7 L2042.9,302.7 L2040.2,301.3 L2045.6,298.6 L2045.6,295.9 L2040.2,294.6 L2042.9,287.8 L2045.6,285.1 L2042.9,281.1 L2034.8,281.1 L2033.5,274.4 L2034.8,266.3 L2034.8,259.5 L2034.8,251.4 L2036.0,247.5 L2029.9,249.0 L2022.9,249.8 L2016.8,249.5 L2012.4,246.0 L2007.1,240.5 L2002.7,232.6 L2000.1,226.5 L1997.5,221.5 L1996.0,220.5 L1993.0,225.8 L1990.1,231.9 L1987.2,236.3 L1975.5,240.0 L1964.0,242.7 L1967.4,231.2 L1971.4,220.4 L1975.5,209.0 L1967.4,211.7 L1959.3,215.7 Z" fill="#e27b6f" stroke="#2f2924" stroke-width="1.45" stroke-linejoin="round"/>
<path d="M2100.0,420.6 L2108.5,417.0 L2114.6,418.8 L2117.6,424.3 L2119.4,431.5 L2121.9,437.6 L2125.5,444.9 L2131.6,450.9 L2138.8,457.0 L2147.3,461.9 L2157.0,464.9 L2164.3,467.3 L2171.6,472.8 L2177.6,480.0 L2183.7,488.5 L2191.0,497.0 L2199.5,505.5 L2208.0,512.8 L2216.5,521.3 L2222.5,526.1 L2229.2,527.3 L2223.7,531.0 L2217.7,533.4 L2224.9,537.1 L2225.6,545.5 L2224.9,555.2 L2220.1,553.4 L2211.6,552.2 L2199.5,552.2 L2187.3,552.2 L2178.9,553.4 L2169.2,556.5 L2159.5,560.1 L2149.8,562.5 L2138.8,563.7 L2129.1,563.1 L2124.3,562.5 L2121.2,563.1 L2119.4,558.9 L2119.2,554.0 L2121.2,551.0 L2126.7,550.2 L2132.2,548.0 L2137.6,545.3 L2144.3,540.7 L2149.8,534.6 L2151.0,529.2 L2147.9,525.5 L2144.3,521.9 L2142.5,517.0 L2141.3,512.2 L2138.8,507.9 L2135.2,504.9 L2131.6,501.9 L2127.9,497.6 L2124.3,493.4 L2119.4,490.4 L2114.6,488.3 L2109.7,486.4 L2106.1,484.3 L2105.5,481.9 L2107.9,479.4 L2110.9,476.4 L2113.4,472.2 L2113.6,467.3 L2112.2,463.1 L2115.2,456.0 L2116.0,450.9 L2113.6,445.8 L2109.1,441.8 L2105.1,439.1 L2102.7,435.4 L2101.0,430.3 L2100.6,424.3 Z" fill="#e27b6f" stroke="#2f2924" stroke-width="1.45" stroke-linejoin="round"/>
<path d="M1911.7,287.5 L1913.7,278.0 L1917.6,268.0 L1921.6,258.0 L1924.6,250.0 L1926.8,240.0 L1926.5,233.0 L1925.0,229.2 L1932.4,224.5 L1936.4,224.5 L1938.0,227.2 L1936.1,231.5 L1933.4,231.0 L1932.4,228.8 L1930.0,231.5 L1929.8,240.0 L1928.8,250.0 L1925.5,257.0 L1921.6,263.0 L1916.6,274.0 L1913.7,287.9 Z" fill="#e27b6f" stroke="#2f2924" stroke-width="1.45" stroke-linejoin="round"/>
<path d="M1941.4,241.3 L1944.0,238.3 L1950.2,235.2 L1952.8,233.5 L1956.3,229.1 L1958.9,222.1 L1960.7,223.8 L1962.9,228.2 L1958.9,231.7 L1952.8,237.0 L1947.5,238.7 L1944.0,244.4 L1941.4,244.4 Z" fill="#e27b6f" stroke="#2f2924" stroke-width="1.45" stroke-linejoin="round"/>
<path d="M1928.6,292.9 L1934.6,283.9 L1939.6,277.9 L1946.6,273.9 L1948.6,272.9 L1951.6,275.9 L1957.5,273.9 L1959.5,277.9 L1956.5,280.9 L1955.5,285.9 L1950.6,289.9 L1945.6,289.9 L1939.6,291.9 L1935.6,295.9 L1929.6,295.9 Z" fill="#e27b6f" stroke="#2f2924" stroke-width="1.45" stroke-linejoin="round"/>
<path d="M1996.6,251.0 L1999.6,245.6 L2002.7,254.6 Z" fill="#e27b6f" stroke="#2f2924" stroke-width="1.45" stroke-linejoin="round"/>
<path d="M1875.0,296.0 L1878.0,293.5 L1882.0,293.5 L1884.0,296.0 L1881.0,298.5 L1877.0,298.8 Z" fill="#e27b6f" stroke="#2f2924" stroke-width="1.45" stroke-linejoin="round"/>
<path d="M1888.0,296.0 L1890.0,295.0 L1893.0,296.5 L1891.0,298.0 Z" fill="#e27b6f" stroke="#2f2924" stroke-width="1.45" stroke-linejoin="round"/>
<path d="M1894.0,296.5 L1898.0,294.0 L1904.0,292.5 L1907.5,290.0 L1909.5,288.0 L1910.0,291.0 L1908.0,294.5 L1903.0,296.5 L1897.0,297.9 Z" fill="#e27b6f" stroke="#2f2924" stroke-width="1.45" stroke-linejoin="round"/>
<path d="M2113.4,480.0 L2120.6,477.6 L2126.7,475.2 L2131.6,477.6 L2132.8,479.4 L2129.1,481.3 L2127.9,484.9 L2127.3,491.0 L2132.8,490.4 L2137.6,489.1 L2141.3,487.3 L2141.3,478.8 L2143.7,472.8 L2147.3,470.3 L2155.8,469.1 L2160.7,470.3 L2164.3,475.2 L2166.7,482.5 L2167.9,489.8 L2172.8,487.3 L2176.4,487.3 L2178.9,492.2 L2180.1,499.5 L2179.5,509.2 L2177.6,517.6 L2178.3,521.3 L2174.0,520.1 L2170.4,516.4 L2169.2,512.8 L2163.1,513.4 L2158.2,514.0 L2155.8,516.4 L2154.6,521.3 L2154.0,523.7 L2152.8,518.9 L2154.6,514.0 L2155.8,506.7 L2157.0,500.7 L2152.2,497.6 L2144.9,498.2 L2140.0,499.5 L2137.6,504.3 L2137.6,511.6 L2138.8,516.4 L2135.2,512.8 L2131.6,509.2 L2127.9,505.5 L2124.3,500.7 L2120.6,495.8 L2117.0,492.2 L2113.4,489.8 L2110.9,487.3 L2111.5,483.7 Z" fill="#ffffff" stroke="#2f2924" stroke-width="1.45" stroke-linejoin="round"/>
<path d="M1492.5,464.1 L1494.8,469.8 L1499.3,478.9 L1506.2,480.1 L1513.1,481.2 L1520.0,488.1 L1521.1,495.0 L1522.3,505.3 L1528.0,497.3 L1540.6,496.1 L1539.5,490.4 L1545.2,488.1 L1554.3,490.4 L1554.3,504.2 L1553.2,513.3 L1552.1,520.2 L1547.5,527.1 L1546.3,536.2 L1545.2,545.4 L1541.7,553.4 L1547.5,556.9 L1552.1,559.1 L1554.3,570.6 L1549.8,578.6" fill="none" stroke="#2f2924" stroke-width="1.45" stroke-linejoin="round"/>
<path d="M1548.6,577.2 L1542.9,577.2 L1538.3,572.6 L1533.7,570.3 L1529.1,566.9 L1524.6,570.3 L1520.0,568.0 L1515.4,570.3 L1513.1,580.6 L1510.8,576.0 L1506.2,574.9 L1502.8,580.6 L1497.1,578.3 L1487.9,578.3 L1478.7,579.5 L1476.4,573.7 L1468.4,576.0 L1466.1,581.8 L1467.3,592.1 L1465.0,600.1 L1463.8,608.1 L1460.4,609.3 L1457.0,611.6 L1453.5,611.6 L1446.6,611.6 L1439.8,613.8 L1430.6,615.0 L1421.4,616.1 L1410.0,620.7 L1406.5,626.5 L1408.8,631.0 L1412.3,635.6 L1413.4,640.2 L1410.0,645.9 L1408.8,650.5 L1403.1,652.8 L1396.2,650.5 L1392.8,647.1 L1387.1,647.1 L1382.5,649.4 L1380.2,656.2 L1373.3,658.5 L1366.4,659.7 L1364.2,654.0 L1359.6,650.5 L1355.0,647.1 L1350.4,642.5 L1345.8,644.8 L1341.2,644.8 L1336.7,647.1 L1329.8,644.8 L1328.6,637.9 L1325.2,631.0 L1318.3,626.5 L1314.9,621.9" fill="none" stroke="#2f2924" stroke-width="1.45" stroke-linejoin="round"/>
<path d="M1410.0,620.7 L1415.7,626.5 L1419.1,631.0 L1423.7,635.6 L1426.0,640.2 L1426.0,647.1 L1427.2,654.0 L1428.3,660.8 L1428.3,667.7 L1431.8,671.1 L1442.1,673.4 L1451.2,672.3 L1458.1,668.8 L1452.4,664.3 L1453.5,660.8 L1461.5,658.5 L1465.0,651.7 L1467.3,644.8 L1465.0,637.9 L1463.8,628.7 L1462.7,621.9 L1460.4,616.1 L1457.0,611.6" fill="none" stroke="#2f2924" stroke-width="1.45" stroke-linejoin="round"/>
<path d="M1548.6,577.2 L1554.3,580.6 L1561.2,586.4 L1565.8,589.8 L1575.0,593.2 L1581.8,596.7 L1591.0,595.5 L1597.9,594.4 L1602.5,596.7 L1607.0,601.2 L1611.6,607.0 L1616.2,609.3 L1618.5,617.3 L1623.1,624.2 L1630.0,631.0 L1634.5,635.6 L1639.1,637.9 L1646.0,641.3 L1652.9,639.1 L1659.8,640.2 L1662.0,647.1 L1665.1,654.0 L1662.4,657.3 L1673.2,662.6 L1674.3,666.4 L1679.1,666.4 L1689.4,674.0" fill="none" stroke="#2f2924" stroke-width="1.45" stroke-linejoin="round"/>
<path d="M1689.4,674.0 L1687.7,677.7 L1686.7,683.1 L1685.3,693.9 L1686.1,696.6 L1686.1,704.7 L1689.4,706.8 L1692.0,709.0 L1695.3,712.8 L1703.1,713.0 L1701.8,714.4 L1698.5,720.0 L1688.4,725.0 L1687.3,731.9 L1686.1,743.3 L1683.8,754.8 L1680.4,758.2 L1685.0,762.8 L1682.7,767.4 L1687.3,770.8 L1690.7,776.5 L1695.3,783.4" fill="none" stroke="#2f2924" stroke-width="1.45" stroke-linejoin="round"/>
<path d="M1689.4,674.0 L1699.6,662.1 L1701.8,663.7 L1706.1,665.9 L1708.2,669.1 L1709.3,671.3 L1715.2,674.5 L1720.1,671.3 L1716.8,660.5 L1720.1,656.7 L1719.5,645.9 L1722.0,641.2 L1715.0,631.5 L1726.9,628.8 L1736.1,633.1 L1734.4,635.8 L1732.3,627.7 L1735.5,625.0 L1734.4,619.1 L1738.2,619.1 L1737.7,622.9 L1740.4,622.3 L1745.2,624.5 L1744.7,632.0 L1746.8,638.5 L1754.4,636.4 L1758.7,635.8 L1763.0,639.1 L1768.9,638.5 L1774.9,643.4 L1782.4,642.3 L1790.5,637.4 L1784.6,631.0 L1780.3,622.9 L1785.1,609.9 L1781.9,608.3 L1781.3,596.5 L1787.8,595.4 L1787.3,590.0 L1788.7,590.5 L1793.3,588.2 L1800.2,588.2 L1802.5,582.5 L1803.6,575.6 L1804.8,569.9 L1811.7,567.6 L1816.2,561.9 L1818.5,555.0 L1818.3,551.1 L1820.7,548.6 L1825.6,546.2 L1830.4,545.0 L1831.6,541.3 L1828.6,540.1 L1828.0,537.7 L1825.6,535.3 L1823.8,532.9 L1825.6,529.2 L1828.0,525.6 L1832.9,524.4 L1836.5,521.3 L1835.3,518.3 L1832.9,513.4 L1830.4,508.6 L1831.6,506.2 L1834.1,501.3 L1836.5,496.5 L1837.7,491.6 L1836.5,486.8" fill="none" stroke="#2f2924" stroke-width="1.45" stroke-linejoin="round"/>
<path d="M1617.4,403.3 L1620.8,410.2 L1623.1,418.9 L1620.3,424.0 L1625.4,430.8 L1627.7,437.7 L1632.3,444.6 L1633.4,456.0 L1639.1,459.5 L1648.3,457.2 L1659.8,453.7 L1667.8,452.6 L1670.1,444.6 L1666.6,437.7 L1663.2,428.5 L1665.5,420.5 L1667.8,413.6 L1668.9,409.1 L1666.6,406.8 L1673.5,402.9 L1685.0,402.2 L1696.4,398.7 L1698.2,396.5 L1694.1,390.7 L1690.7,385.0 L1689.1,378.1 L1682.7,375.8 L1673.5,374.0" fill="none" stroke="#2f2924" stroke-width="1.45" stroke-linejoin="round"/></g>
<path d="M1587.6,383.8 L1640.3,402.2" stroke="#000" stroke-width="2.4" fill="none"/>
<path d="M1460.4,659.7 L1482.2,688.3" stroke="#000" stroke-width="2.4" fill="none"/>
<text x="1477.8" y="373.5" font-family="'Liberation Sans', Arial, sans-serif" font-size="19.7" font-weight="normal" fill="#140b05" text-anchor="start" stroke="#140b05" stroke-width="0.5">Hansestadt Rostock</text>
<text x="1750.0" y="389.7" font-family="'Liberation Sans', Arial, sans-serif" font-size="19.7" font-weight="normal" fill="#140b05" text-anchor="start" stroke="#140b05" stroke-width="0.5">LK Vorpommern-</text>
<text x="1750.0" y="411.9" font-family="'Liberation Sans', Arial, sans-serif" font-size="19.7" font-weight="normal" fill="#140b05" text-anchor="start" stroke="#140b05" stroke-width="0.5">Rügen</text>
<text x="1613.6" y="536.7" font-family="'Liberation Sans', Arial, sans-serif" font-size="19.7" font-weight="normal" fill="#140b05" text-anchor="start" stroke="#140b05" stroke-width="0.5">LK Rostock</text>
<text x="1282.4" y="559.3" font-family="'Liberation Sans', Arial, sans-serif" font-size="19.7" font-weight="normal" fill="#140b05" text-anchor="start" stroke="#140b05" stroke-width="0.5">LK Nordwestmecklenburg</text>
<text x="1955.2" y="521.3" font-family="'Liberation Sans', Arial, sans-serif" font-size="19.7" font-weight="normal" fill="#140b05" text-anchor="start" stroke="#140b05" stroke-width="0.5">LK Vorpommern-</text>
<text x="1955.2" y="542.5" font-family="'Liberation Sans', Arial, sans-serif" font-size="19.7" font-weight="normal" fill="#140b05" text-anchor="start" stroke="#140b05" stroke-width="0.5">Greifswald</text>
<text x="1490.7" y="679.5" font-family="'Liberation Sans', Arial, sans-serif" font-size="19.7" font-weight="normal" fill="#140b05" text-anchor="start" stroke="#140b05" stroke-width="0.5">Landeshauptstadt</text>
<text x="1490.7" y="702.9" font-family="'Liberation Sans', Arial, sans-serif" font-size="19.7" font-weight="normal" fill="#140b05" text-anchor="start" stroke="#140b05" stroke-width="0.5">Schwerin</text>
<text x="1800.8" y="701" font-family="'Liberation Sans', Arial, sans-serif" font-size="19.7" font-weight="normal" fill="#140b05" text-anchor="start" stroke="#140b05" stroke-width="0.5">LK Mecklenburgische</text>
<text x="1800.8" y="722.9" font-family="'Liberation Sans', Arial, sans-serif" font-size="19.7" font-weight="normal" fill="#140b05" text-anchor="start" stroke="#140b05" stroke-width="0.5">Seenplatte</text>
<text x="1372.8" y="757.8" font-family="'Liberation Sans', Arial, sans-serif" font-size="19.7" font-weight="normal" fill="#140b05" text-anchor="start" stroke="#140b05" stroke-width="0.5">LK Ludwigslust-Parchim</text>
<text x="36.4" y="865.1" font-family="Carlito, 'Liberation Sans', sans-serif" font-size="39.6" font-weight="bold" fill="#457ca4" text-anchor="start" stroke="#457ca4" stroke-width="0.6">Ermittlung der risikogewichteten Einstufung</text>
<rect x="173" y="889" width="417.0" height="47.5" fill="#457ca4"/>
<text x="381.5" y="924.8" font-family="Carlito, 'Liberation Sans', sans-serif" font-size="36.3" font-weight="normal" fill="#fff" text-anchor="middle" stroke="#fff" stroke-width="0.45">Grundstufe</text>
<rect x="665" y="889" width="331.0" height="47.5" fill="#457ca4"/>
<text x="830.5" y="924.8" font-family="Carlito, 'Liberation Sans', sans-serif" font-size="36.3" font-weight="normal" fill="#fff" text-anchor="middle" stroke="#fff" stroke-width="0.45">1. Gewichtung<tspan font-family="'DejaVu Sans', sans-serif" font-weight="bold" font-size="32" dy="-2.5" stroke-width="0">*</tspan></text>
<rect x="1005.6" y="889" width="330.0" height="47.5" fill="#457ca4"/>
<text x="1170.6" y="924.8" font-family="Carlito, 'Liberation Sans', sans-serif" font-size="36.3" font-weight="normal" fill="#fff" text-anchor="middle" stroke="#fff" stroke-width="0.45">2. Gewichtung<tspan font-family="'DejaVu Sans', sans-serif" font-weight="bold" font-size="32" dy="-2.5" stroke-width="0">*</tspan></text>
<rect x="1458" y="889" width="491.0" height="47.5" fill="#457ca4"/>
<text x="1703.5" y="924.8" font-family="Carlito, 'Liberation Sans', sans-serif" font-size="36.3" font-weight="normal" fill="#fff" text-anchor="middle" stroke="#fff" stroke-width="0.45">Einstufung der LK/SK</text>
<text x="381.5" y="985.7" font-family="Carlito, 'Liberation Sans', sans-serif" font-size="36.5" font-weight="bold" fill="#457ca4" text-anchor="middle" stroke="#457ca4" stroke-width="0.6">7-Tage-Inzidenz</text>
<text x="381.5" y="1033.6" font-family="Carlito, 'Liberation Sans', sans-serif" font-size="36.5" font-weight="bold" fill="#457ca4" text-anchor="middle" stroke="#457ca4" stroke-width="0.6">Hospitalisierungen</text>
<text x="793.8" y="965.7" font-family="Carlito, 'Liberation Sans', sans-serif" font-size="32.9" font-weight="bold" fill="#457ca4" text-anchor="middle" stroke="#457ca4" stroke-width="0.6">ITS-Auslastung</text>
<text x="793.5" y="1008.8" font-family="Carlito, 'Liberation Sans', sans-serif" font-size="32.9" font-weight="normal" fill="#457ca4" text-anchor="middle" stroke="#457ca4" stroke-width="0.45">durch COVID-19-</text>
<text x="793.5" y="1051.9" font-family="Carlito, 'Liberation Sans', sans-serif" font-size="32.9" font-weight="normal" fill="#457ca4" text-anchor="middle" stroke="#457ca4" stroke-width="0.45">Patient:innen<tspan font-family="'DejaVu Sans', sans-serif" font-weight="bold" font-size="28" dy="-1.5" stroke-width="0">**</tspan></text>
<text x="1133.2" y="987.8" font-family="Carlito, 'Liberation Sans', sans-serif" font-size="33.1" font-weight="bold" fill="#457ca4" text-anchor="middle" stroke="#457ca4" stroke-width="0.6">7-Tage-Inzidenz</text>
<text x="1133.2" y="1030" font-family="Carlito, 'Liberation Sans', sans-serif" font-size="33.1" font-weight="bold" fill="#457ca4" text-anchor="middle" stroke="#457ca4" stroke-width="0.6">Neuinfektionen</text>
<text x="1704.5" y="1010.5" font-family="Carlito, 'Liberation Sans', sans-serif" font-size="36.3" font-weight="bold" fill="#457ca4" text-anchor="middle" stroke="#457ca4" stroke-width="0.6">Risikogewichtete Einstufung</text>
<text transform="translate(958.0,967.1) scale(1.32,1)" font-family="Carlito, 'DejaVu Sans', sans-serif" font-size="25.6" text-anchor="middle" fill="#000" stroke="#ffffff" stroke-width="0.3">↑</text>
<text x="958" y="1009.4" font-family="Carlito, sans-serif" font-weight="bold" font-size="30.5" text-anchor="middle" fill="#000">=</text>
<text transform="translate(958.0,1044.6) scale(1.32,1)" font-family="Carlito, 'DejaVu Sans', sans-serif" font-size="25.6" text-anchor="middle" fill="#000" stroke="#ffffff" stroke-width="0.3">↓</text>
<text transform="translate(1298.0,967.1) scale(1.32,1)" font-family="Carlito, 'DejaVu Sans', sans-serif" font-size="25.6" text-anchor="middle" fill="#000" stroke="#ffffff" stroke-width="0.3">↑</text>
<text x="1298" y="1009.4" font-family="Carlito, sans-serif" font-weight="bold" font-size="30.5" text-anchor="middle" fill="#000">=</text>
<text transform="translate(1298.0,1044.6) scale(1.32,1)" font-family="Carlito, 'DejaVu Sans', sans-serif" font-size="25.6" text-anchor="middle" fill="#000" stroke="#ffffff" stroke-width="0.3">↓</text>
<rect x="32" y="1058.5" width="1917" height="7" fill="#457ca4"/>
<rect x="32" y="1409.5" width="1917" height="7" fill="#457ca4"/>
<rect x="32" y="1491.7" width="1970" height="19.3" fill="#457ca4"/>
<text x="37.1" y="1102.8" font-family="Carlito, 'Liberation Sans', sans-serif" font-size="36.5" font-weight="normal" fill="#000" text-anchor="start" stroke="#000" stroke-width="0.45">HRO</text>
<rect x="173.3" y="1070.3" width="416.5" height="37.5" fill="#f3c26b"/>
<text x="381.5" y="1102.8" font-family="Carlito, 'Liberation Sans', sans-serif" font-size="36.5" font-weight="normal" fill="#000" text-anchor="middle" stroke="#000" stroke-width="0.45">8,1</text>
<text x="793.5" y="1102.8" font-family="Carlito, 'Liberation Sans', sans-serif" font-size="36.5" font-weight="normal" fill="#000" text-anchor="middle" stroke="#000" stroke-width="0.45">11,2 %</text>
<rect x="921" y="1070.3" width="75" height="37.5" fill="#f3c26b"/>
<rect x="1260.3" y="1070.3" width="74.7" height="37.5" fill="#e27b6f"/>
<text x="959.4" y="1099.9" font-family="Carlito, sans-serif" font-weight="bold" font-size="28" text-anchor="middle" fill="#000">=</text>
<text transform="translate(1298.9,1098.6) scale(1.32,1)" font-family="Carlito, 'DejaVu Sans', sans-serif" font-size="25.6" text-anchor="middle" fill="#000" stroke="#e27b6f" stroke-width="0.3">↑</text>
<text x="1133.7" y="1102.8" font-family="Carlito, 'Liberation Sans', sans-serif" font-size="37.2" font-weight="normal" fill="#000" text-anchor="middle" stroke="#000" stroke-width="0.45">1695,2</text>
<rect x="1458.2" y="1070.3" width="491" height="37.5" fill="#f3c26b"/>
<text x="1704" y="1102.8" font-family="Carlito, 'Liberation Sans', sans-serif" font-size="36.3" font-weight="normal" fill="#000" text-anchor="middle" stroke="#000" stroke-width="0.45">Warnstufe Orange</text>
<text x="37.1" y="1145.19" font-family="Carlito, 'Liberation Sans', sans-serif" font-size="36.5" font-weight="normal" fill="#000" text-anchor="start" stroke="#000" stroke-width="0.45">SN</text>
<rect x="173.3" y="1112.7" width="416.5" height="37.5" fill="#e27b6f"/>
<text x="381.5" y="1145.19" font-family="Carlito, 'Liberation Sans', sans-serif" font-size="36.5" font-weight="normal" fill="#000" text-anchor="middle" stroke="#000" stroke-width="0.45">11,5</text>
<text x="793.5" y="1145.19" font-family="Carlito, 'Liberation Sans', sans-serif" font-size="36.5" font-weight="normal" fill="#000" text-anchor="middle" stroke="#000" stroke-width="0.45">7,6 %</text>
<rect x="921" y="1112.7" width="75" height="37.5" fill="#faf77a"/>
<rect x="1260.3" y="1112.7" width="74.7" height="37.5" fill="#e27b6f"/>
<text transform="translate(947.6,1139.7) scale(1.32,1)" font-family="Carlito, 'DejaVu Sans', sans-serif" font-size="25.6" text-anchor="middle" fill="#000" stroke="#faf77a" stroke-width="0.3">↓</text><text transform="translate(971.1,1139.7) scale(1.32,1)" font-family="Carlito, 'DejaVu Sans', sans-serif" font-size="25.6" text-anchor="middle" fill="#000" stroke="#faf77a" stroke-width="0.3">↓</text>
<text x="1298.9" y="1142.3" font-family="Carlito, sans-serif" font-weight="bold" font-size="28" text-anchor="middle" fill="#000">=</text>
<text x="1133.7" y="1145.19" font-family="Carlito, 'Liberation Sans', sans-serif" font-size="37.2" font-weight="normal" fill="#000" text-anchor="middle" stroke="#000" stroke-width="0.45">1414,1</text>
<rect x="1458.2" y="1112.7" width="491" height="37.5" fill="#f3c26b"/>
<text x="1704" y="1145.19" font-family="Carlito, 'Liberation Sans', sans-serif" font-size="36.3" font-weight="normal" fill="#000" text-anchor="middle" stroke="#000" stroke-width="0.45">Warnstufe Orange</text>
<text x="37.1" y="1187.58" font-family="Carlito, 'Liberation Sans', sans-serif" font-size="36.5" font-weight="normal" fill="#000" text-anchor="start" stroke="#000" stroke-width="0.45">MSE</text>
<rect x="173.3" y="1155.1" width="416.5" height="37.5" fill="#f3c26b"/>
<text x="381.5" y="1187.58" font-family="Carlito, 'Liberation Sans', sans-serif" font-size="36.5" font-weight="normal" fill="#000" text-anchor="middle" stroke="#000" stroke-width="0.45">7,8</text>
<text x="793.5" y="1187.58" font-family="Carlito, 'Liberation Sans', sans-serif" font-size="36.5" font-weight="normal" fill="#000" text-anchor="middle" stroke="#000" stroke-width="0.45">14,9 %</text>
<rect x="921" y="1155.1" width="75" height="37.5" fill="#f3c26b"/>
<rect x="1260.3" y="1155.1" width="74.7" height="37.5" fill="#e27b6f"/>
<text x="959.4" y="1184.7" font-family="Carlito, sans-serif" font-weight="bold" font-size="28" text-anchor="middle" fill="#000">=</text>
<text transform="translate(1298.9,1183.4) scale(1.32,1)" font-family="Carlito, 'DejaVu Sans', sans-serif" font-size="25.6" text-anchor="middle" fill="#000" stroke="#e27b6f" stroke-width="0.3">↑</text>
<text x="1133.7" y="1187.58" font-family="Carlito, 'Liberation Sans', sans-serif" font-size="37.2" font-weight="normal" fill="#000" text-anchor="middle" stroke="#000" stroke-width="0.45">1192,4</text>
<rect x="1458.2" y="1155.1" width="491" height="37.5" fill="#f3c26b"/>
<text x="1704" y="1187.58" font-family="Carlito, 'Liberation Sans', sans-serif" font-size="36.3" font-weight="normal" fill="#000" text-anchor="middle" stroke="#000" stroke-width="0.45">Warnstufe Orange</text>
<text x="37.1" y="1229.97" font-family="Carlito, 'Liberation Sans', sans-serif" font-size="36.5" font-weight="normal" fill="#000" text-anchor="start" stroke="#000" stroke-width="0.45">LRO</text>
<rect x="173.3" y="1197.5" width="416.5" height="37.5" fill="#f3c26b"/>
<text x="381.5" y="1229.97" font-family="Carlito, 'Liberation Sans', sans-serif" font-size="36.5" font-weight="normal" fill="#000" text-anchor="middle" stroke="#000" stroke-width="0.45">7,8</text>
<text x="793.5" y="1229.97" font-family="Carlito, 'Liberation Sans', sans-serif" font-size="36.5" font-weight="normal" fill="#000" text-anchor="middle" stroke="#000" stroke-width="0.45">11,2 %</text>
<rect x="921" y="1197.5" width="75" height="37.5" fill="#f3c26b"/>
<rect x="1260.3" y="1197.5" width="74.7" height="37.5" fill="#e27b6f"/>
<text x="959.4" y="1227.1" font-family="Carlito, sans-serif" font-weight="bold" font-size="28" text-anchor="middle" fill="#000">=</text>
<text transform="translate(1298.9,1225.8) scale(1.32,1)" font-family="Carlito, 'DejaVu Sans', sans-serif" font-size="25.6" text-anchor="middle" fill="#000" stroke="#e27b6f" stroke-width="0.3">↑</text>
<text x="1133.7" y="1229.97" font-family="Carlito, 'Liberation Sans', sans-serif" font-size="37.2" font-weight="normal" fill="#000" text-anchor="middle" stroke="#000" stroke-width="0.45">1519,3</text>
<rect x="1458.2" y="1197.5" width="491" height="37.5" fill="#f3c26b"/>
<text x="1704" y="1229.97" font-family="Carlito, 'Liberation Sans', sans-serif" font-size="36.3" font-weight="normal" fill="#000" text-anchor="middle" stroke="#000" stroke-width="0.45">Warnstufe Orange</text>
<text x="37.1" y="1272.36" font-family="Carlito, 'Liberation Sans', sans-serif" font-size="36.5" font-weight="normal" fill="#000" text-anchor="start" stroke="#000" stroke-width="0.45">VR</text>
<rect x="173.3" y="1239.9" width="416.5" height="37.5" fill="#e27b6f"/>
<text x="381.5" y="1272.36" font-family="Carlito, 'Liberation Sans', sans-serif" font-size="36.5" font-weight="normal" fill="#000" text-anchor="middle" stroke="#000" stroke-width="0.45">9,3</text>
<text x="793.5" y="1272.36" font-family="Carlito, 'Liberation Sans', sans-serif" font-size="36.5" font-weight="normal" fill="#000" text-anchor="middle" stroke="#000" stroke-width="0.45">14,0 %</text>
<rect x="921" y="1239.9" width="75" height="37.5" fill="#f3c26b"/>
<rect x="1260.3" y="1239.9" width="74.7" height="37.5" fill="#e27b6f"/>
<text transform="translate(959.4,1266.9) scale(1.32,1)" font-family="Carlito, 'DejaVu Sans', sans-serif" font-size="25.6" text-anchor="middle" fill="#000" stroke="#f3c26b" stroke-width="0.3">↓</text>
<text x="1298.9" y="1269.5" font-family="Carlito, sans-serif" font-weight="bold" font-size="28" text-anchor="middle" fill="#000">=</text>
<text x="1133.7" y="1272.36" font-family="Carlito, 'Liberation Sans', sans-serif" font-size="37.2" font-weight="normal" fill="#000" text-anchor="middle" stroke="#000" stroke-width="0.45">1344,4</text>
<rect x="1458.2" y="1239.9" width="491" height="37.5" fill="#e27b6f"/>
<text x="1704" y="1272.36" font-family="Carlito, 'Liberation Sans', sans-serif" font-size="36.3" font-weight="normal" fill="#000" text-anchor="middle" stroke="#000" stroke-width="0.45">Warnstufe Rot</text>
<text x="37.1" y="1314.75" font-family="Carlito, 'Liberation Sans', sans-serif" font-size="36.5" font-weight="normal" fill="#000" text-anchor="start" stroke="#000" stroke-width="0.45">NWM</text>
<rect x="173.3" y="1282.2" width="416.5" height="37.5" fill="#faf77a"/>
<text x="381.5" y="1314.75" font-family="Carlito, 'Liberation Sans', sans-serif" font-size="36.5" font-weight="normal" fill="#000" text-anchor="middle" stroke="#000" stroke-width="0.45">5,7</text>
<text x="793.5" y="1314.75" font-family="Carlito, 'Liberation Sans', sans-serif" font-size="36.5" font-weight="normal" fill="#000" text-anchor="middle" stroke="#000" stroke-width="0.45">7,6 %</text>
<rect x="921" y="1282.2" width="75" height="37.5" fill="#faf77a"/>
<rect x="1260.3" y="1282.2" width="74.7" height="37.5" fill="#e27b6f"/>
<text x="959.4" y="1311.8" font-family="Carlito, sans-serif" font-weight="bold" font-size="28" text-anchor="middle" fill="#000">=</text>
<text transform="translate(1287.2,1310.5) scale(1.32,1)" font-family="Carlito, 'DejaVu Sans', sans-serif" font-size="25.6" text-anchor="middle" fill="#000" stroke="#e27b6f" stroke-width="0.3">↑</text><text transform="translate(1310.7,1310.5) scale(1.32,1)" font-family="Carlito, 'DejaVu Sans', sans-serif" font-size="25.6" text-anchor="middle" fill="#000" stroke="#e27b6f" stroke-width="0.3">↑</text>
<text x="1133.7" y="1314.75" font-family="Carlito, 'Liberation Sans', sans-serif" font-size="37.2" font-weight="normal" fill="#000" text-anchor="middle" stroke="#000" stroke-width="0.45">1285,6</text>
<rect x="1458.2" y="1282.2" width="491" height="37.5" fill="#f3c26b"/>
<text x="1704" y="1314.75" font-family="Carlito, 'Liberation Sans', sans-serif" font-size="36.3" font-weight="normal" fill="#000" text-anchor="middle" stroke="#000" stroke-width="0.45">Warnstufe Orange</text>
<text x="37.1" y="1357.1399999999999" font-family="Carlito, 'Liberation Sans', sans-serif" font-size="36.5" font-weight="normal" fill="#000" text-anchor="start" stroke="#000" stroke-width="0.45">VG</text>
<rect x="173.3" y="1324.6" width="416.5" height="37.5" fill="#e27b6f"/>
<text x="381.5" y="1357.1399999999999" font-family="Carlito, 'Liberation Sans', sans-serif" font-size="36.5" font-weight="normal" fill="#000" text-anchor="middle" stroke="#000" stroke-width="0.45">17,8</text>
<text x="793.5" y="1357.1399999999999" font-family="Carlito, 'Liberation Sans', sans-serif" font-size="36.5" font-weight="normal" fill="#000" text-anchor="middle" stroke="#000" stroke-width="0.45">14,0 %</text>
<rect x="921" y="1324.6" width="75" height="37.5" fill="#f3c26b"/>
<rect x="1260.3" y="1324.6" width="74.7" height="37.5" fill="#e27b6f"/>
<text transform="translate(959.4,1351.6) scale(1.32,1)" font-family="Carlito, 'DejaVu Sans', sans-serif" font-size="25.6" text-anchor="middle" fill="#000" stroke="#f3c26b" stroke-width="0.3">↓</text>
<text x="1298.9" y="1354.2" font-family="Carlito, sans-serif" font-weight="bold" font-size="28" text-anchor="middle" fill="#000">=</text>
<text x="1133.7" y="1357.1399999999999" font-family="Carlito, 'Liberation Sans', sans-serif" font-size="37.2" font-weight="normal" fill="#000" text-anchor="middle" stroke="#000" stroke-width="0.45">1381,8</text>
<rect x="1458.2" y="1324.6" width="491" height="37.5" fill="#e27b6f"/>
<text x="1704" y="1357.1399999999999" font-family="Carlito, 'Liberation Sans', sans-serif" font-size="36.3" font-weight="normal" fill="#000" text-anchor="middle" stroke="#000" stroke-width="0.45">Warnstufe Rot</text>
<text x="37.1" y="1399.53" font-family="Carlito, 'Liberation Sans', sans-serif" font-size="36.5" font-weight="normal" fill="#000" text-anchor="start" stroke="#000" stroke-width="0.45">LUP</text>
<rect x="173.3" y="1367.0" width="416.5" height="37.5" fill="#f3c26b"/>
<text x="381.5" y="1399.53" font-family="Carlito, 'Liberation Sans', sans-serif" font-size="36.5" font-weight="normal" fill="#000" text-anchor="middle" stroke="#000" stroke-width="0.45">9,0</text>
<text x="793.5" y="1399.53" font-family="Carlito, 'Liberation Sans', sans-serif" font-size="36.5" font-weight="normal" fill="#000" text-anchor="middle" stroke="#000" stroke-width="0.45">7,6 %</text>
<rect x="921" y="1367.0" width="75" height="37.5" fill="#faf77a"/>
<rect x="1260.3" y="1367.0" width="74.7" height="37.5" fill="#e27b6f"/>
<text transform="translate(959.4,1394.0) scale(1.32,1)" font-family="Carlito, 'DejaVu Sans', sans-serif" font-size="25.6" text-anchor="middle" fill="#000" stroke="#faf77a" stroke-width="0.3">↓</text>
<text transform="translate(1298.9,1395.3) scale(1.32,1)" font-family="Carlito, 'DejaVu Sans', sans-serif" font-size="25.6" text-anchor="middle" fill="#000" stroke="#e27b6f" stroke-width="0.3">↑</text>
<text x="1133.7" y="1399.53" font-family="Carlito, 'Liberation Sans', sans-serif" font-size="37.2" font-weight="normal" fill="#000" text-anchor="middle" stroke="#000" stroke-width="0.45">1383,6</text>
<rect x="1458.2" y="1367.0" width="491" height="37.5" fill="#f3c26b"/>
<text x="1704" y="1399.53" font-family="Carlito, 'Liberation Sans', sans-serif" font-size="36.3" font-weight="normal" fill="#000" text-anchor="middle" stroke="#000" stroke-width="0.45">Warnstufe Orange</text>
<rect x="173.3" y="1421.1" width="416.5" height="70.6" fill="#e27b6f"/>
<text x="36.4" y="1469.5" font-family="Carlito, 'Liberation Sans', sans-serif" font-size="40.3" font-weight="normal" fill="#000" text-anchor="start" stroke="#000" stroke-width="0.45">MV</text>
<text x="382" y="1469.5" font-family="Carlito, 'Liberation Sans', sans-serif" font-size="40.3" font-weight="normal" fill="#000" text-anchor="middle" stroke="#000" stroke-width="0.45">9,7</text>
<text x="795" y="1469.5" font-family="Carlito, 'Liberation Sans', sans-serif" font-size="40.3" font-weight="normal" fill="#000" text-anchor="middle" stroke="#000" stroke-width="0.45">11,5 %</text>
<text x="1134" y="1469.5" font-family="Carlito, 'Liberation Sans', sans-serif" font-size="40.3" font-weight="normal" fill="#000" text-anchor="middle" stroke="#000" stroke-width="0.45">1398,1</text>
<rect x="2000.3" y="1058.3" width="556" height="452.7" fill="#595959"/>
<rect x="2008" y="1065" width="540.2" height="85.3" fill="#bfbfbf"/>
<rect x="2008" y="1155.8" width="316.7" height="78.4" fill="#d9d9d9"/>
<rect x="2332" y="1155.8" width="216.2" height="78.4" fill="#d9d9d9"/>
<rect x="2008" y="1239.7" width="316.7" height="79.4" fill="#f2f2f2"/>
<rect x="2332" y="1239.7" width="216.2" height="79.4" fill="#f2f2f2"/>
<rect x="2008" y="1325.2" width="316.7" height="79.1" fill="#f2f2f2"/>
<rect x="2332" y="1325.2" width="216.2" height="79.1" fill="#f2f2f2"/>
<rect x="2008" y="1409.8" width="316.7" height="82" fill="#d9d9d9"/>
<rect x="2332" y="1409.8" width="216.2" height="82" fill="#d9d9d9"/>
<text x="2278.2" y="1100.5" font-family="Carlito, 'Liberation Sans', sans-serif" font-size="26.3" font-weight="bold" fill="#404040" text-anchor="middle" stroke="#404040" stroke-width="0.6">Aktuelle Situation auf den Intensivstationen für</text>
<text x="2278.2" y="1135.8" font-family="Carlito, 'Liberation Sans', sans-serif" font-size="26.3" font-weight="bold" fill="#404040" text-anchor="middle" stroke="#404040" stroke-width="0.6">Erwachsene in MV <tspan font-family="'DejaVu Sans', sans-serif" font-weight="bold" font-size="23.5" dy="-1" stroke-width="0">***</tspan></text>
<text x="2167.8" y="1203.3" font-family="Carlito, 'Liberation Sans', sans-serif" font-size="26.6" font-weight="bold" fill="#404040" text-anchor="middle" stroke="#404040" stroke-width="0.6">Bettenstatus</text>
<text x="2382.1" y="1203.3" font-family="Carlito, 'Liberation Sans', sans-serif" font-size="26.4" font-weight="bold" fill="#404040" text-anchor="middle" stroke="#404040" stroke-width="0.6">Anzahl</text>
<text x="2493.8" y="1203.3" font-family="Carlito, 'Liberation Sans', sans-serif" font-size="26.6" font-weight="normal" fill="#404040" text-anchor="middle" stroke="#404040" stroke-width="0.45">(Anteil)</text>
<text x="2166.5" y="1270.9" font-family="Carlito, 'Liberation Sans', sans-serif" font-size="22.8" font-weight="normal" fill="#404040" text-anchor="middle" stroke="#404040" stroke-width="0.45">Gesamtzahl aktuell betreibbarer</text>
<text x="2166.5" y="1302" font-family="Carlito, 'Liberation Sans', sans-serif" font-size="22.8" font-weight="normal" fill="#404040" text-anchor="middle" stroke="#404040" stroke-width="0.45">Intensivbetten</text>
<text x="2381.9" y="1287.6" font-family="Carlito, 'Liberation Sans', sans-serif" font-size="26.3" font-weight="bold" fill="#404040" text-anchor="middle" stroke="#404040" stroke-width="0.6">593</text>
<text x="2166.5" y="1355" font-family="Carlito, 'Liberation Sans', sans-serif" font-size="22.8" font-weight="normal" fill="#404040" text-anchor="middle" stroke="#404040" stroke-width="0.45">Intensivbetten</text>
<text x="2166.5" y="1386.3" font-family="Carlito, 'Liberation Sans', sans-serif" font-size="22.8" font-weight="normal" fill="#404040" text-anchor="middle" stroke="#404040" stroke-width="0.45">aktuell belegt</text>
<text x="2381.9" y="1372.8" font-family="Carlito, 'Liberation Sans', sans-serif" font-size="26.3" font-weight="bold" fill="#404040" text-anchor="middle" stroke="#404040" stroke-width="0.6">485</text>
<text x="2494" y="1372.8" font-family="Carlito, 'Liberation Sans', sans-serif" font-size="26.6" font-weight="normal" fill="#404040" text-anchor="middle" stroke="#404040" stroke-width="0.45">(81,8 %)</text>
<text x="2166.2" y="1442" font-family="Carlito, 'Liberation Sans', sans-serif" font-size="22.8" font-weight="normal" fill="#404040" text-anchor="middle" stroke="#404040" stroke-width="0.45"><tspan text-decoration="underline">Davon</tspan> COVID-19-Fälle</text>
<text x="2166.6" y="1472.5" font-family="Carlito, 'Liberation Sans', sans-serif" font-size="22.8" font-weight="normal" fill="#404040" text-anchor="middle" stroke="#404040" stroke-width="0.45">aktuell in Behandlung</text>
<text x="2381.9" y="1458" font-family="Carlito, 'Liberation Sans', sans-serif" font-size="26.3" font-weight="bold" fill="#404040" text-anchor="middle" stroke="#404040" stroke-width="0.6">68</text>
<text x="2494" y="1458" font-family="Carlito, 'Liberation Sans', sans-serif" font-size="26.6" font-weight="normal" fill="#404040" text-anchor="middle" stroke="#404040" stroke-width="0.45">(11,5 %)</text>
</svg>
</body></html>
